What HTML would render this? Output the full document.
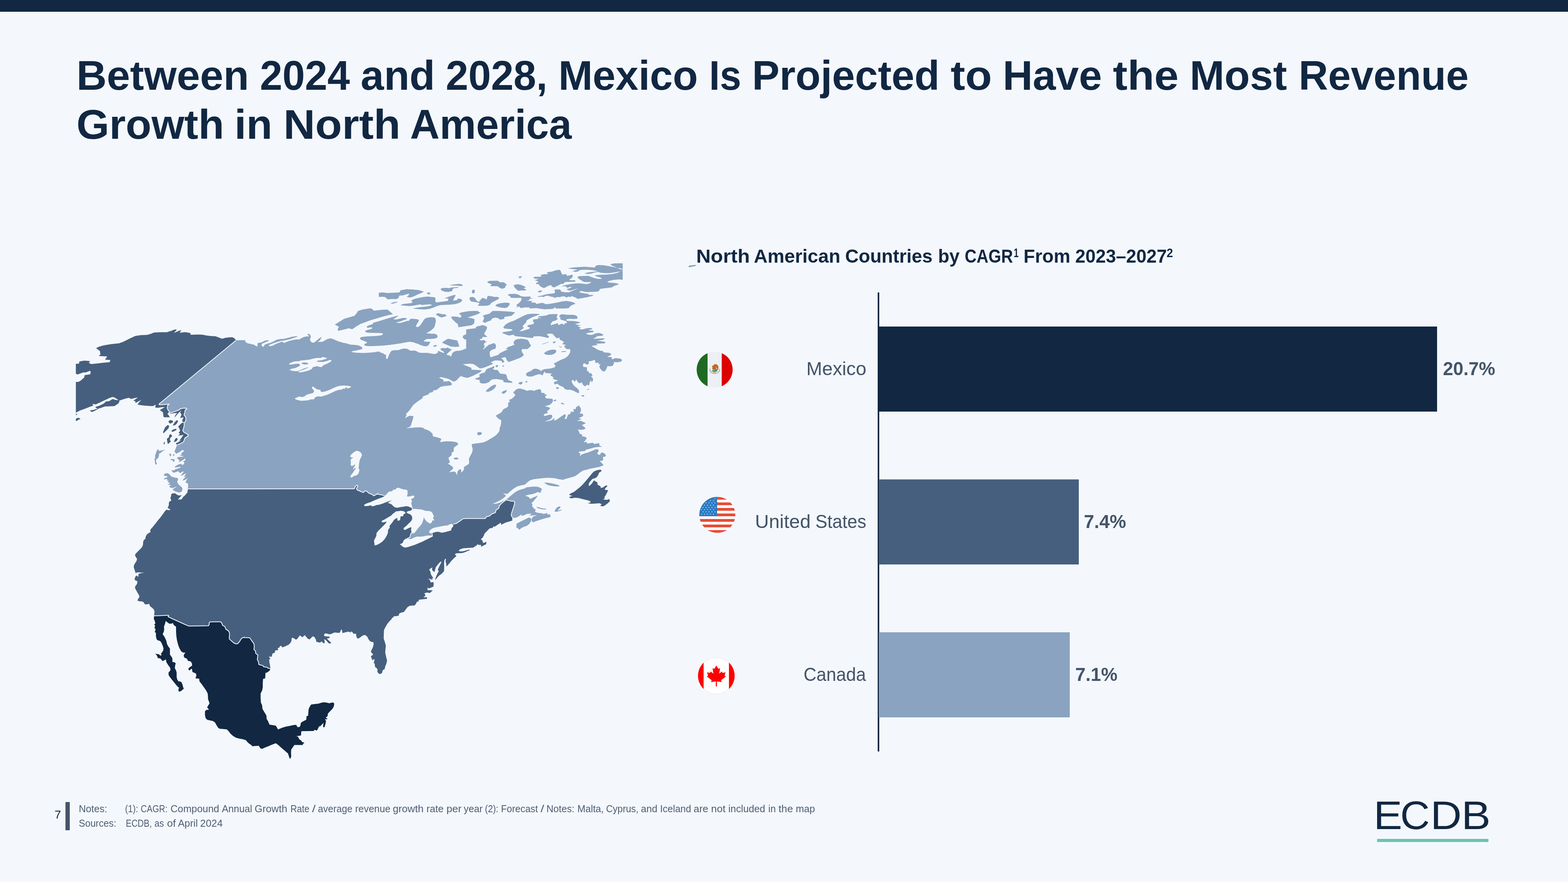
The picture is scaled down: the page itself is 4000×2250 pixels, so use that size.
<!DOCTYPE html>
<html lang="en">
<head>
<meta charset="utf-8">
<title>Between 2024 and 2028, Mexico Is Projected to Have the Most Revenue Growth in North America</title>
<style>
html,body{margin:0;padding:0;}
body{width:4000px;height:2250px;overflow:hidden;background:#f4f8fc;font-family:"Liberation Sans",sans-serif;}
.slide{position:relative;width:4000px;height:2250px;overflow:hidden;background:#f4f8fc;}
.t{position:absolute;left:0;margin:0;padding:0;width:4000px;height:0;line-height:1;white-space:pre;}
.w{position:absolute;top:0;display:block;line-height:1;white-space:pre;transform-origin:0 0;}
.topbar{position:absolute;left:0;top:0;width:4000px;height:30px;background:#112742;}
.bar{position:absolute;left:2242px;height:217px;}
.axis{position:absolute;left:2239px;top:746px;width:4px;height:1171px;background:#112742;}
.rule{position:absolute;left:167px;top:2046px;width:11px;height:72px;background:#44546a;}
.logoline{position:absolute;left:3512.6px;top:2139.5px;width:284.5px;height:8.3px;background:#6cc4b0;}
svg{position:absolute;left:0;top:0;overflow:visible;}
</style>
</head>
<body>
<div class="slide">
<div class="topbar"></div>
<header>

<h1 class="t " style="top:140.12px;font-size:105px;font-weight:700;color:#112742"><span class="w" style="left:195.27px;transform:scaleX(1.0191)">Between</span> <span class="w" style="left:663.45px;transform:scaleX(0.9826)">2024</span> <span class="w" style="left:920.35px;transform:scaleX(1.0169)">and</span> <span class="w" style="left:1137.43px;transform:scaleX(0.9881)">2028,</span> <span class="w" style="left:1424.4px;">Mexico</span> <span class="w" style="left:1808.85px;transform:scaleX(0.9351)">Is</span> <span class="w" style="left:1918.4px;">Projected</span> <span class="w" style="left:2425.34px;transform:scaleX(1.0638)">to</span> <span class="w" style="left:2558.34px;transform:scaleX(1.0083)">Have</span> <span class="w" style="left:2839.34px;transform:scaleX(1.0654)">the</span> <span class="w" style="left:3035.31px;transform:scaleX(1.0127)">Most</span> <span class="w" style="left:3313.46px;transform:scaleX(0.9907)">Revenue</span></h1>
<h1 class="t " style="top:264.82px;font-size:105px;font-weight:700;color:#112742"><span class="w" style="left:194.5px;transform:scaleX(1.0252)">Growth</span> <span class="w" style="left:598.33px;transform:scaleX(1.0375)">in</span> <span class="w" style="left:723.12px;transform:scaleX(1.0674)">North</span> <span class="w" style="left:1045.61px;transform:scaleX(0.9952)">America</span></h1>
</header>
<section class="map">
<svg class="map" width="4000" height="2250" viewBox="0 0 4000 2250" xmlns="http://www.w3.org/2000/svg">
<defs><clipPath id="mapclip"><rect x="193.5" y="671.5" width="1395.0" height="1288.5"/></clipPath></defs>
<g clip-path="url(#mapclip)">
<path fill="#8aa3c0" d="M459.4,1122.4 521.5,1122.4 521.5,1249.1 479.3,1249.1 479.9,1238 479.3,1233 473,1231.1 475.5,1225.5 479,1219.9 471.8,1224.3 465,1226.1 469.3,1220.6 474.9,1215.6 468.1,1216.8 471.8,1213.1 474.9,1206.9 465.6,1212.5 460.6,1214.3 464.3,1209.4 469.3,1202.5 465.6,1203.2 459.4,1206.9 454.4,1201.9 447,1205 442,1205.7 437,1200.1 445.7,1199.4 447,1197 458.1,1193.9 461.9,1190.7 454.4,1191.4 445.7,1192.6 447,1189.5 454.4,1185.2 461.9,1183.3 465.6,1186.4 469.3,1183.3 470.6,1179.6 466.8,1177.7 473,1173.4 472.4,1169.6 463.1,1175.8 455.7,1179.6 458.1,1175.8 455.7,1172.1 451.3,1169 454.4,1165.9 468.1,1164.7 465.6,1162.8 458.1,1162.2 463.7,1159.1 462.5,1155.3 468.1,1152.2 469.3,1149.1 465.6,1147.9 458.1,1152.9 449.4,1157.8 445.1,1151.6 447,1147.3 449.4,1141.1 451.9,1134.2ZM396,1184.5 395.4,1179.6 394.2,1170.9 396,1167.8 395.4,1162.2 397.3,1157.2 400.4,1148.5 403.5,1146.3 405,1147.3 404.7,1150.4 412.2,1149.1 422.1,1147 414.7,1151 409.1,1156 405.3,1157.8 405.7,1162.2 403.5,1168.4 398.5,1172.1 397.9,1177.1 400.4,1183.3 398.5,1185.2ZM431.4,1157 437,1158.4 436.4,1162.2 434.5,1164.7 432.7,1161.6ZM441.4,1159.7 443.2,1157.8 445.5,1161.6 441.4,1163.4ZM434.5,1171.5 439.5,1170.9 445.7,1172.1 445.1,1177.1 441.4,1178.3 440.7,1174.6 435.8,1173.4ZM417.8,1211.9 420.9,1208.1 427.7,1206.9 432.7,1210.6 437,1215.6 447,1218.7 453.2,1219.3 454.4,1223 451.9,1229.3 455,1235.5 459.4,1239.2 464.3,1243.5 465.6,1247.9 463.7,1254.1 458.1,1256.6 451.9,1255.3 445.7,1252.9 440.1,1249.1 444.5,1245.4 449.4,1242.3 451.9,1240.4 447,1242.3 442,1244.8 434.5,1244.2 432,1241.7 435.8,1236.7 427.7,1236.7 434.5,1231.7 427.1,1230.5 430.8,1227.4 425.8,1225.5 427.1,1221.8 418.4,1223 419,1219.9 425.8,1218.1 427.1,1215 422.1,1213.7 419,1214.3ZM602.5,868 625,867.7 626.6,872.7 632.8,876.6 642.1,880 649.9,881.2 656.4,884.3 657.6,875 667,873.5 676.3,868.8 680.9,867.7 687.1,868.8 679.4,871.9 673.2,875 668.5,876.6 667,880.5 669.3,884.3 672.4,884.3 674.7,879.7 682.5,876.6 688.7,875 698,871.1 705.8,866.5 715.1,864.9 724.4,864.2 735.3,861.8 743,859.5 755.5,857.6 759.8,858.3 750.8,861.8 738.4,865.7 724.4,868.8 715.1,870.1 705.8,872.7 694.9,876.6 687.1,879.7 684.8,882 688.7,883.1 694.9,882 702.7,878.1 712,874.3 719.8,871.6 724.4,875 735.3,870.4 747.7,867.3 755.5,865.7 763.2,866 767.9,862.9 775.7,859.5 783.4,858 788.1,858.7 787.3,855.6 784.2,853.3 785.7,851.4 789.6,852.5 792.7,856.4 792.7,861.1 790.4,866.5 793.5,871.9 797.4,874.3 802,873.5 806.7,869.6 812.9,864.2 817.6,861.1 821.5,859.5 817.6,864.9 816.8,868 809.8,872.2 822.2,871.9 831.6,867 842.4,863.4 850.2,865.4 859.5,869.6 867.3,872.7 882.8,875.8 893.7,878.9 906.1,880 915.4,882 921.6,885.9 923.9,889 918.5,891.8 906.1,893.7 896.8,896 896,898.3 906.1,900.2 921.6,900.7 937.1,900.7 952.7,899.1 968.2,897.1 969.8,900.7 980.6,903 980.6,1055.6 579.2,1055.6 579.2,876.6ZM854.2,827.9 877.5,813.4 882.1,811.9 903.9,805.7 910.1,798.7 913.2,793.3 925.6,789.4 944.2,786.6 948.9,787.8 953.5,792.5 975.3,790.2 988.5,789.7 995.5,795.6 1002.5,801.5 990.8,804.1 975.3,808 959.8,812.7 944.2,817.3 931.8,822 919.4,826.6 908.5,832.9 900.7,838.8 897.6,839.8 889.9,837.5 879,840.3 863.5,843.7 861.1,841.4 864.3,833.6ZM934.9,833.6 939.6,830.5 951.2,826.6 952,823.5 967.5,818.9 983,814.2 998.6,809.6 1014.1,805.2 1016,806.1 1011,809.6 1003.2,814.2 1011,815 1020.3,812.7 1029.6,810.8 1038.2,811.9 1037.4,814.2 1028.1,817.3 1020.3,820.4 1012.5,822 1011,823.5 1020.3,823.9 1028.1,822 1037.4,818.9 1043.6,818.1 1045.9,814.2 1049.8,813.1 1062.2,813.9 1068.4,815.8 1067.7,820.4 1064.6,825.1 1061.5,830.5 1061.5,833.6 1065.3,834.4 1070,832.1 1074.7,826.6 1079.3,818.9 1084,812.7 1090.2,810.3 1099.5,809.3 1107.3,809.6 1111.1,812.7 1111.9,818.9 1110.4,826.6 1108.8,832.9 1105.7,837.5 1099.5,843 1093.3,846.8 1087.1,849.9 1099.5,851.2 1110.4,851.5 1115,854.6 1116.6,859.3 1113.5,862.4 1107.3,863.9 1098,864.7 1088.6,864.7 1084,867 1080.9,870.9 1088.6,871.7 1098,872 1095.6,876.3 1093.3,880.7 1088.6,883.3 1082.4,883.3 1074.7,881 1065.3,877.1 1054.5,873.2 1045.2,871.7 1035.8,873.2 1021.9,876 1006.3,878.2 990.8,880.2 975.3,881.8 959.8,882.5 944.2,882.9 933.4,882.5 928.7,880.2 931,877.1 936.5,874.8 935.7,872.5 928.7,869.8 920.9,867 917.8,863.1 920.9,860 931.8,858.5 944.2,857.7 959.8,856.9 972.2,855.4 976.8,853 976.8,850.7 969.1,849.6 952,849.2 938,848.7 932.1,846.8 931.8,843.7 938,841.4 945.8,839.8 949.7,837.5 948.9,835.2 942.7,835.2 938,836.7ZM966.3,747.5 969.1,746.2 978.4,745.9 987.7,747.5 1003.2,746.7 1018.8,745.9 1021.9,740.5 1037.4,737.8 1052.9,738.4 1068.4,740 1081.2,744 1074.7,747.5 1065.3,751.3 1056,756 1046.7,759.1 1037.4,757.5 1042,753.7 1044.4,749 1037.4,750.6 1028.1,753.4 1018.8,754 1017.2,758.3 1014.9,761.4 1009.4,763.3 1003.2,762.7 995.5,763 988.5,763.8 986.1,760.7 981.5,757.5 973.7,757.1 966.3,757.5ZM1089.4,746.7 1094.1,745.9 1098.3,747.8 1097.2,750.2 1092.5,750.9 1089.4,749ZM997,773.5 1006.3,770.4 1014.1,769.5 1012.5,771.5 1003.2,774.6 998.6,775.1ZM1021.9,779.3 1026.5,775.7 1037.4,774.6 1049.8,773.1 1052.9,770.7 1048.3,767.6 1056,762.7 1068.4,759.9 1080.9,757.5 1091.7,756.5 1099.5,757.5 1108.8,758.3 1111.1,761.4 1110.4,767.6 1111.9,771.5 1119.7,770.7 1130.6,769.2 1143,767.6 1143.8,761.7 1133.7,760.7 1143,757.5 1153.9,753.7 1162.4,752.1 1160.1,758.3 1156.2,764.5 1155.4,766.4 1165.5,766.1 1167,762.2 1172.5,761.7 1177.1,763.3 1179,766.9 1175.6,770.7 1167.8,773.9 1158.5,776.2 1146.1,777.3 1133.7,777.7 1124.3,778.2 1115,780.8 1105.7,784.7 1096.4,787.8 1084,789.4 1071.6,789.1 1060.7,788.1 1052.9,787 1062.2,785 1074.7,783.2 1087.1,781.9 1098,780.1 1102.6,777.7 1096.4,776.6 1084,777.3 1074.7,778.5 1074.7,776.2 1065.3,777.7 1052.9,780.1 1043.6,780.8 1034.3,780.1 1028.1,779.3ZM1124.3,736.6 1129,734.7 1138.3,734.3 1146.1,735.3 1150.7,733.5 1161.6,732.7 1169.4,732.2 1168.6,734.3 1158.5,735.3 1155.4,736.6 1153.9,741.2 1150.7,743.6 1143,744.7 1135.2,744.3 1128.2,742 1125.1,739.4ZM1146.9,727.3 1158.5,725.4 1170.9,724.2 1177.1,724.9 1180.6,727.3 1179.5,729.6 1174,729.6 1164.7,728.5 1155.4,728.4ZM1203.9,742.8 1205.1,740 1208.2,738.9 1211,741.2 1211,745.1 1209,748.2 1205.9,748.7 1203.9,745.9ZM1111.9,801 1118.1,799 1124.3,800.6 1129,801.8 1135.2,801.5 1139.6,805.7 1133.7,808 1125.9,809.9 1119.7,807.2 1114.3,804.1ZM820,874 829.3,868.6 835.5,864.7 843.3,863.1 851.1,865.5 863.5,870.9 874.3,874 889.9,878.7 903.9,879.8 913.2,880.7 919.4,883.3 924.8,887.2 924,890.3 916.3,892.6 903.9,895 896.1,896.5 900.7,898.9 913.2,899.9 928.7,900.4 944.2,899.6 959.8,898.1 968.3,896.5 967.5,898.9 975.3,900.4 983,905.1 984.3,908.9 976.8,909.7 973,910.5 975.3,915.5 820,915.5ZM1127.5,874 1135.2,868.6 1143,863.9 1153.9,866.2 1166.3,868.6 1169.4,876.3 1171.7,884.1 1161.6,884.9 1150.7,884.1 1143,881 1133.7,877.1ZM1105.4,882.5 1108.8,880.7 1113.5,880.2 1114.7,882.2 1111.1,884.1 1106.5,884.9ZM1556.5,674.6 1565.8,672 1578.2,671.2 1590.6,671.5 1590.6,686.7 1575.1,682.9 1562.7,678.2ZM1448.5,684.4 1461.7,682.4 1477.3,681.3 1492.8,680.5 1508.3,681.8 1517.6,682.4 1519.2,678.2 1525.4,676.2 1539.4,676.6 1553.4,679 1565.8,681.3 1575.1,682.9 1581.3,686.7 1590.6,687.5 1590.6,690.6 1578.2,693 1565.8,695.3 1554.9,696.8 1544,696.8 1531.6,695.7 1526.2,693.7 1516.1,695.3 1508.3,697.9 1499,698.9 1490.5,697.6 1499,695.3 1509.9,693.7 1520.7,692.6 1525.4,692.2 1516.1,689.8 1500.6,688.3 1485,688.3 1477.3,689.5 1475.7,692.2 1468,693.7 1460.2,691.7 1466.4,689.8 1474.2,688.6 1466.4,686.7 1457.1,686ZM1517.6,702.3 1531.6,701 1547.1,700.4 1562.7,698.9 1575.1,696.1 1582.9,692.2 1590.6,691.4 1590.6,713.9 1578.2,712.8 1565.8,713.9 1554.9,716.2 1548.7,719.3 1554.9,720.9 1567.3,721.7 1578.2,724 1576.6,726.3 1565.8,729.4 1562.7,732.5 1554.9,734.1 1539.4,735.7 1530.1,737.2 1528.5,741.9 1523.9,743.9 1513,744.5 1500.6,745 1491.2,744.2 1481.9,741.9 1477.3,739.2 1474.2,735.7 1466.4,738 1457.1,741.1 1450.9,741.1 1444.7,738 1454,734.9 1459.4,731.8 1454,732.1 1446.2,734.6 1444.7,731 1438.4,730.2 1432.2,732.1 1438.4,727.9 1454,724.8 1466.4,723.2 1477.3,722.8 1488.1,724 1497.5,724.8 1505.2,722.5 1508.3,719.3 1499,719.7 1489.7,719.3 1481.9,714.7 1475.7,710.8 1472.6,706.9 1477.3,704.6 1488.1,704.1 1500.6,703.8 1508.3,706.6 1516.1,709.3 1523.9,711.3 1531.6,711.6 1536.3,710.3 1528.5,706.9 1520.7,705.1ZM1360,707.7 1365.5,706.1 1376.3,706.1 1382.5,704.6 1378.7,701.5 1384.1,699.9 1398.1,698.9 1395,694.5 1407.4,693 1418.3,689.5 1427.6,688.3 1429.9,690.6 1432.2,696.1 1434.6,700.4 1444.7,699.2 1446.2,703.8 1454,702.3 1460.2,700.4 1461.4,704.6 1458.6,709.3 1452.4,713.1 1454,715 1467.2,715 1467.6,718.6 1454,719 1441.6,719.3 1438.4,722.8 1434.6,725.2 1432.2,723.7 1422.9,728.7 1413.6,733.3 1408.9,731.8 1405.1,727.1 1396.5,730.2 1390.3,734.1 1385.7,734.6 1379.4,731 1374.8,727.1 1376.3,725.2 1368.6,724.8 1367,721.7 1373.2,720.1 1370.9,717 1363.9,714.7 1370.1,713.1 1374.8,711.6 1363.9,710.8ZM1322,705.4 1332.1,704.6 1326.6,710.8ZM1243.6,718.6 1249,716.6 1259.9,716.2 1270.7,716.2 1274.6,720.1 1284.7,720.1 1289.4,723.2 1293.7,727.1 1289.4,728.7 1289.4,732.5 1286.3,734.9 1280.1,736.7 1274.6,734.1 1269.2,730.2 1258.3,729.9 1250.6,729.9 1253.7,724.8 1247.5,722.8 1243.6,720.9ZM1310.3,727.9 1314.2,725.9 1322,725.2 1329.8,727.1 1337.5,730.2 1341.4,732.5 1336,735.7 1343.7,739.5 1339.1,741.1 1329.8,741.1 1322,741.9 1317.3,738 1312.7,733.3ZM1204,742.6 1205.5,739.5 1208.6,738.8 1211.4,741.1 1211,745.7 1208.6,748.5 1205.2,748.1ZM1371.4,744.2 1374.8,741.9 1380.2,740.8 1382.9,742.6 1380.2,745 1375.6,746.1ZM1197.5,759.7 1200.1,757.9 1205.5,757.4 1210.2,758.9 1213.3,762.8 1216.4,767.5 1221.1,770.6 1224.9,765.9 1228.8,761.3 1231.1,760 1236.6,761.3 1241.2,764.4 1242.8,758.2 1244.3,754.8 1252.1,755.4 1261.4,757.4 1269.2,757.4 1273.5,759.4 1271.5,762.8 1264.5,766.7 1256.8,770.6 1252.1,773.7 1249.8,777.6 1244.3,779.6 1233.5,780.2 1218.7,779.9 1223.4,773.7 1219.5,772.1 1211.7,770.6 1202.4,769.3 1199,765.9ZM1263.3,779.9 1267.6,776 1277,773.4 1287.8,772.1 1297.1,772.5 1301,774.5 1298.7,779.1 1294.8,783.8 1289.4,785.8 1280.1,784.9 1270.7,783ZM1294.8,752 1300.2,750.1 1314.2,749.6 1322,751.6 1329.8,755.8 1339.1,756.9 1345.3,756.6 1353.8,756.3 1352.3,759.4 1360.8,761.3 1351.5,762 1349.9,765.6 1343,767.5 1353,767.5 1358.5,768.7 1354.6,772.1 1365.5,772.1 1368.6,775.6 1376.3,773.7 1384.1,772.5 1388.8,774.5 1391.9,776 1399.6,775.6 1410.5,773.7 1422.9,771.4 1435.3,768.7 1444.7,767.8 1454,769 1463.3,771.4 1468,775.2 1461.7,777.1 1454,781.5 1450.9,786.1 1438.4,786.9 1426,786.9 1417.5,786.9 1416.7,783.8 1410.5,787.7 1399.6,788.4 1388.8,788.9 1379.4,787.7 1368.6,786.1 1357.7,786.4 1351.5,786.9 1350.7,784.3 1339.1,784.3 1329.8,785.8 1325.9,784.6 1325.1,781.5 1315.8,784.9 1320.4,780.7 1316.6,778.4 1322,774.5 1326.6,770.6 1329.8,765.9 1330.5,760 1323.5,759.7 1314.2,760 1303.4,759.7 1301,755.8ZM1370.1,756.6 1384.1,753.5 1396.5,750.1 1407.4,748.9 1415.2,748.1 1415.9,742.6 1413.6,739.5 1419.8,738.3 1429.1,738.8 1432.2,744.2 1441.6,745.4 1450.9,745.7 1460.2,741.9 1468,738.8 1474.9,735.7 1477.3,739.2 1481.9,741.9 1477.3,745.7 1485,747.3 1494.3,748.9 1501.3,749.6 1500.6,752 1515.3,752.7 1508.3,755.8 1497.5,758.2 1485,760.5 1474.2,762.5 1466.4,758.2 1457.1,755.1 1456.3,758.2 1450.9,756.6 1444.7,758.9 1440,755.8 1432.2,756.6 1427.6,758.2 1422.9,757.4 1415.2,759.7 1410.5,757.4 1404.3,756.6 1398.1,754.3 1391.9,755.1 1385.7,758.2 1383.3,756.6 1376.3,757.4ZM1189.2,794.7 1199.3,793.6 1210.2,793.3 1221.1,795.4 1226,797.3 1221.1,800.1 1210.2,803.2 1199.3,807.1 1189.2,810.2ZM1231.1,805.5 1236.6,803.5 1249,800.1 1253.7,795.4 1256.8,793.3 1270.7,793.3 1286.3,793.9 1301.8,795.1 1314.2,796.7 1309.6,801.6 1304.9,805.5 1297.1,807.1 1287,808.2 1286.3,813.3 1280.1,814.8 1275.4,815.3 1270.7,811.7 1264.5,810.2 1258.3,811.3 1253.7,814.1 1252.9,817.2 1244.3,820.3 1236.6,823.7 1231.1,820.3 1234.3,814.1 1235,809.4ZM1189.2,811 1199.3,812.5 1210.2,814.8 1209.4,824.9 1204,829.6 1196.2,831.1 1189.2,831.5ZM1283.9,835 1289.4,828 1298.7,822.6 1311.1,818 1322,812.5 1332.9,807.1 1345.3,801.6 1357.7,800.4 1368.6,800.4 1377.9,801.3 1371.7,804 1360.8,807.9 1351.5,812.5 1343.7,817.2 1341.4,823.4 1336.7,828 1332.9,832.7 1336.7,836.6 1331.3,840.5 1325.1,845.1 1332.9,844.3 1342.2,841.2 1349.9,838.9 1351.5,835 1345.3,833.5 1346.8,829.6 1354.6,828 1360.8,826.5 1362.4,823.4 1359.3,818.7 1360.8,814.8 1371.7,814.1 1373.2,810.2 1381,812.5 1371.7,807.1 1384.1,806 1395,804.4 1399.6,802 1410.5,801.3 1422.9,801.6 1421.4,805.5 1419.8,809.4 1422.9,814.1 1416.7,818 1408.9,820 1405.1,826.5 1404.3,829.6 1413.6,827.3 1422.9,824.2 1424.5,829.6 1430.7,826.5 1435.3,825.7 1439.2,829.6 1440,824.9 1446.2,824.2 1444.7,819.5 1436.9,817.2 1429.1,814.8 1429.9,810.2 1426.8,807.9 1427.6,804 1433.8,801.6 1446.2,802.9 1461.7,802.9 1469.5,804.8 1473.4,808.6 1472.6,813.3 1461.7,813.8 1454,813.3 1444.7,814.4 1446.2,818.4 1461.7,818.7 1472.6,820.3 1480.4,822.1 1477.3,824.2 1466.4,826.5 1474.2,828.8 1483.2,829.6 1472.6,831.9 1481.9,835.8 1477.3,838.9 1485,840.5 1494.3,838.1 1503.7,836.6 1509.9,837.4 1511.4,839.7 1500.6,842 1508.3,843.6 1513.8,843.6 1513,847.5 1505.2,848.2 1494.3,850.6 1500.6,853.7 1509.9,854.4 1517.6,851.3 1523.9,849.5 1531.6,850.1 1539.4,853.7 1536.3,856.8 1523.9,857.5 1519.2,861 1513,864.5 1523.9,863.8 1536.3,863 1544,864.1 1537.8,866.9 1523.9,868.7 1516.1,870 1531.6,871.5 1544,873.1 1542.5,875.9 1531.6,876.2 1520.7,877 1523.9,880.1 1516.1,880.8 1508.3,882.4 1516.1,887 1520.7,890.5 1444.7,890.5 1438.4,882.4 1444.7,880.1 1435.3,877.7 1440,873.1 1432.2,868.4 1427.6,866.1 1427.6,861.4 1419.8,863 1413.6,856 1408.9,851.3 1398.1,851.3 1395,853.7 1401.2,859.1 1398.1,862.2 1388.8,859.9 1376.3,857.5 1360.8,858.3 1359.3,862.5 1345.3,861 1329.8,859.1 1314.2,857.5 1309.6,853.7 1298.7,856 1289.4,852.9 1280.1,849 1286.3,846.7 1298.7,845.1 1308,842.8 1304.9,839.7 1295.6,838.9 1286.3,838.1ZM1189.2,840.5 1199.3,838.9 1213.3,837.4 1214.8,833.5 1224.2,831.1 1231.1,829.3 1239.7,831.9 1242.8,835 1241.2,840.5 1238.1,845.9 1235,851.3 1238.1,855.2 1243.6,859.1 1236.6,859.9 1231.9,859.1 1229.6,863.8 1222.6,866.1 1227.3,868.4 1236.6,867.6 1238.1,871.5 1243.6,871.8 1236.6,874.6 1233.5,879.3 1236.6,882.4 1235,887 1231.9,890.5 1189.2,890.5ZM1235,890.5 1241.2,883.9 1249,879.3 1256.8,876.2 1261.4,875.4 1264.5,879.3 1265.3,885.5 1263,890.5ZM1289.4,890.5 1297.1,884.7 1304.9,882.4 1312.7,879.3 1309.6,874.6 1312.7,868.4 1318.9,865.3 1329.8,864.1 1339.1,865.3 1346.8,867.6 1349.9,873.1 1353,880.8 1351.5,885.5 1345.3,890.5ZM1410.5,872.3 1415.2,870.7 1418,871.8 1415.2,874.6 1411.3,875.9ZM1382.5,877.7 1391.9,874.6 1400.4,871.8 1399.6,873.1 1390.3,876.2 1384.1,878.5ZM1424.5,883.2 1429.1,883.9 1433.8,885.5 1429.9,886.3ZM1150.7,808 1157,807.2 1166.3,808 1174,810.3 1177.1,808 1175.6,803.4 1170.2,799.9 1177.1,797.1 1189.6,794.8 1205.1,793.3 1220,793.3 1220,801 1208.2,804.9 1192.7,809.9 1202,811.4 1210.5,814.2 1209.8,823.5 1205.1,828.2 1192.7,831.3 1180.2,833.2 1169.4,834.7 1167.8,826.6 1161.6,822 1155.4,815.8 1152.3,811.9ZM1220,882.5 1197.3,882.5 1198.9,877.1 1206.6,874 1208.2,870.9 1203.5,870.1 1198.9,873.2 1196.6,870.9 1195.8,865.5 1192.7,867 1184.9,865.5 1180.2,860.8 1181.8,856.1 1189.6,852.3 1197.3,849.9 1192.7,848.4 1191.1,844.5 1198.9,839.1 1214.4,838.3 1215.2,833.6 1220,832.1ZM959.2,897.1 967.8,897.9 975.5,901 981.7,904.8 984.1,908.7 975.5,909.2 972.7,909.8 975.5,915.7 978.6,922.7 981,916.5 988.7,914.9 991.1,908 994.9,900.2 998.8,894.8 1006.6,893.2 1015.9,893.2 1025.2,890.1 1033,889 1039.2,890.1 1044.6,893.2 1048.5,894.8 1057.8,894.3 1063.3,896.3 1068.7,899.4 1078,900.2 1088.9,899.9 1099.8,901.7 1107.5,903.3 1113.7,901.7 1116.8,899.4 1117.6,894.8 1123,897.1 1130.8,900.2 1133.9,899.4 1129.3,895.5 1124.6,893.2 1123.8,889.3 1129.3,887.8 1137,888.5 1141.7,886.5 1146.3,889.3 1152.5,891.6 1149.4,894.8 1144.8,898.6 1140.1,903.3 1138.6,904.8 1147.9,907.6 1150.2,910.3 1152.5,904.8 1154.1,900.2 1160.3,896.3 1166.5,894.8 1172.7,894.8 1180.5,892.4 1188.3,889.3 1194.5,884.7 1197.6,879.2 1236.4,879.2 1229.4,887 1232.5,891.6 1239.5,886.2 1247.3,879.2 1265.1,879.2 1264.7,886.2 1261.2,890.1 1253.5,893.2 1249.6,897.1 1249.1,903.3 1251.1,911.8 1259.7,908.7 1270.6,905.6 1275.2,901 1286.1,895.5 1298.5,890.1 1309.4,884.7 1317.1,879.2 1354.4,879.2 1354.4,883.1 1340.4,887 1332.7,889.3 1330.3,894 1332.7,900.2 1336.6,904.8 1332.7,909.5 1324.9,913.4 1317.1,916.5 1306.3,920.4 1297,923.5 1293.1,918.8 1289.2,911.1 1278.3,913.4 1283,917.3 1286.9,923.5 1281.4,925.8 1279.9,921.1 1270.6,919.6 1262.8,919.6 1255,922.7 1251.9,925 1258.1,927.4 1255,929.7 1247.3,932.8 1238,936.7 1230.2,939.3 1224,939.8 1216.2,934.3 1208.4,928.9 1199.1,927.8 1188.3,928.4 1180.5,929.4 1188.3,932.8 1197.6,936.2 1202.2,938.2 1203,942.9 1214.7,943.7 1224,944 1229.4,945.2 1224,949.9 1214.7,954.5 1205.3,959.2 1197.6,962.3 1191.4,963.9 1183.6,962.3 1175.8,959.2 1171.2,963.1 1166.5,968.5 1160.3,972.9 1154.1,972.4 1149.4,969.3 1143.2,966.2 1133.9,963.9 1124.6,962 1119.9,963.5 1126.1,966.6 1131.6,969.3 1130.8,973.2 1138.6,972.9 1145.6,971.9 1150.2,975.5 1153.3,980.2 1151,982.8 1143.2,984 1133.9,984.8 1124.6,986.4 1118.4,991 1113,994.9 1105.2,996.1 1104.4,999.9 1094.3,1002.7 1093.9,1006.1 1084.2,1009.2 1078,1012 1078.8,1015.1 1068.7,1022.1 1060.9,1027.5 1053.9,1033.7 1049.3,1039.9 1045.4,1046.1 1039.2,1052.4 1036.1,1055.5 1036.9,1060.1 1033,1067.1 1040.7,1062.5 1045.4,1060.4 1054.7,1061.4 1053.2,1069.4 1050.1,1078.8 1048.5,1085 1045.4,1088.9 1036.1,1092.7 1047,1091.5 1059.4,1090.4 1071.8,1089.9 1079.6,1091.5 1082.7,1094.3 1092,1097.4 1098.2,1101.3 1102.1,1105.5 959.2,1105.5ZM1210.8,966.2 1217.8,963.9 1224,960.7 1222.4,956.1 1227.1,953 1236.4,949.9 1241.1,942.1 1247.3,939 1255,936.7 1259.7,933.6 1261.2,938.2 1256.6,941.3 1262.8,943.7 1269,943.4 1273.7,949.9 1275.2,953 1283,953.8 1289.2,954.2 1292.3,957.6 1293.9,964.6 1297,970.1 1306.3,973.2 1307,976.6 1293.9,976 1284.5,974.7 1283.8,970.1 1276.8,968.5 1267.5,967 1258.1,967.3 1251.9,970.1 1247.3,974.7 1239.5,977.8 1231.7,978.6 1225.5,977 1223.2,973.2 1224,969.3 1216.2,968.5ZM1238.7,998.8 1242.6,994.1 1248.8,988.7 1255,984 1262.8,980.9 1265.9,982.5 1264.3,987.1 1259.7,992.6 1253.5,996.5 1245.7,999.6ZM1279.1,1001.1 1283,998.3 1290.7,995.2 1293.5,995.7 1290.7,1000.3 1286.1,1004.2 1283,1004.5ZM1264,933.6 1266.7,931.2 1270.2,931.6 1270.6,934.3 1268.2,936.7 1265.1,936.2ZM1281.4,932.8 1284.5,932 1286.1,933.6 1284.5,935.6 1282.2,935.1ZM1322.6,977 1326.5,974.7 1331.1,973.9 1333.4,976.3 1331.1,979.4 1326.5,980.9ZM1340.1,972.4 1342.8,971.9 1345.1,973.9 1343.5,976.3 1340.7,975ZM1342,954.5 1345.1,950.7 1352.9,947.5 1360.6,946 1360.6,960 1351.3,960.7 1345.1,959.2ZM1360.6,1105.5 1269,1105.5 1270.6,1100.5 1273.7,1094.3 1276.8,1086.5 1278.3,1080.3 1279.1,1074.1 1276.8,1070.2 1270.6,1066.3 1264.3,1060.9 1272.1,1056.2 1278.3,1052.4 1281.4,1048.5 1284.5,1043.8 1292.3,1039.9 1296.2,1036.8 1297.7,1029.1 1302.4,1023.6 1297.7,1021 1301.6,1019.8 1310.9,1013.5 1314.8,1008.1 1311.7,1004.2 1309.4,1001.1 1315.6,995.7 1321.8,991.8 1329.6,991.8 1337.3,994.1 1345.1,997.2 1351.3,995.7 1360.6,995.7ZM1217,1105.5 1219.3,1103.3 1224,1102.4 1228.6,1103.6 1230.2,1105.5ZM1527.3,869.2 1535,870.8 1544.3,872.3 1543.6,874.7 1535,875.4 1527.3,874.7 1519.5,877 1524.2,880.9 1518,880.9 1508.6,882.4 1516.4,887.1 1524.2,891.7 1531.9,894.8 1538.1,895.6 1539.7,898.7 1547.5,899.5 1555.2,900.3 1559.9,903.4 1556.8,906.5 1549,910.4 1560.7,911.1 1560.7,916.6 1564.5,915.8 1569.2,913.5 1578.5,914.3 1584.7,915.8 1587,919.7 1583.2,922.8 1573.9,924.3 1566.1,923.6 1566.1,927.5 1563,932.9 1556.8,934.4 1549.8,933.7 1546.7,941.4 1542.8,947.3 1538.1,947.6 1531.9,941.4 1528.8,935.2 1531.9,929 1527.3,929.8 1527.3,925.1 1519.5,925.9 1517.2,918.1 1510.2,920.5 1501.6,922 1502.4,927.5 1497.8,930.6 1491.6,927.1 1488.4,927.5 1486.9,931.3 1488.4,936 1497,936.8 1497.8,946.9 1501.6,947.6 1502.4,951.5 1508.6,952.3 1511.7,959.3 1507.1,960.1 1510.2,962.4 1513.3,967 1511.7,972.5 1509.4,975.6 1507.1,969.4 1504,977.1 1502.4,984.1 1497.8,981 1493.1,985.7 1486.9,981.8 1484.6,975.6 1477.6,977.9 1472.9,973.3 1469.8,967.8 1466.7,974 1462,969.4 1458.9,970.2 1458.2,973.3 1460.5,978.7 1465.2,984.9 1471.4,989.6 1476,994.2 1477.6,999.7 1476,1003.2 1471.4,1001.2 1463.6,997.3 1455.8,994.2 1446.5,994.2 1440.3,991.9 1437.2,987.2 1432.5,985.7 1426.3,982.6 1421.7,978.7 1415.5,981 1412.4,975.6 1417,973.3 1424,970.2 1415.5,968.6 1410,965.5 1412.4,962.4 1406.1,959.3 1403.8,956.2 1408.5,953.1 1399.9,952.3 1390.6,951.5 1391.4,946.9 1386.7,951.5 1384.4,957.7 1379.8,955.4 1375.1,954.6 1368.9,956.2 1359.6,959.3 1350.2,960.8 1344,959.3 1341.7,955.4 1343.3,951.5 1348.7,948.4 1355.7,946.1 1358,943 1362.7,940.7 1368.9,940.7 1375.9,943 1380.5,946.9 1382.9,943.8 1389.1,941.7 1395.3,941.1 1404.6,939.9 1415.5,936.8 1417,932.1 1412.4,927.5 1421.7,922.8 1431,918.1 1441.9,913.5 1449.6,907.3 1454.3,899.5 1455.1,893.3 1452.7,888.6 1445,884.8 1443.4,879.6 1434.1,878.1 1437.2,874.7 1440.3,869.2ZM1387.5,901.1 1395.3,895.6 1404.6,892.5 1413.9,891.7 1419.3,894.1 1418.6,898.7 1413.9,902.6 1407.7,904.9 1398.4,905.4 1391.4,904.2ZM1410.8,872.3 1414.7,871.2 1417.3,872.3 1415.5,875 1411.6,875.4ZM1383.6,877.5 1399.9,871.9 1399.9,872.8 1384.4,878.1ZM1425.6,883.2 1432.5,884.8 1433.3,886.3 1428.7,885.8ZM1431.8,896.4 1443.4,895.2 1443.7,897.6 1432.5,898.3ZM1275.7,1095.5 1278,1084.3 1278.8,1071.9 1271.1,1068 1264.8,1060.2 1274.2,1054.8 1281.1,1051.7 1282.7,1045.5 1288.1,1042.4 1294.3,1040 1296.7,1034.6 1295.9,1028.4 1302.1,1023 1297.5,1020.6 1305.2,1017.5 1311.4,1012.1 1315.3,1007.4 1309.1,1001.2 1314.5,995.8 1319.2,991.9 1327,991.1 1336.3,994.2 1344,997.3 1351.8,995 1359.6,998.1 1367.3,995 1375.1,992.7 1379.8,994.2 1381.3,1002 1389.1,1002.8 1389.8,1006.6 1393.7,1006.3 1395.3,1008.2 1390.6,1010.5 1392.2,1016 1401.5,1016.7 1409.3,1017.5 1410.8,1022.2 1409.3,1026.1 1404.6,1031.5 1396.8,1034.6 1389.8,1036.1 1398.4,1038.5 1403.8,1040.8 1399.9,1045.5 1395.3,1049.3 1397.6,1054 1389.1,1055.6 1386.7,1060.2 1392.2,1061 1399.9,1058.2 1406.9,1057.9 1409.3,1061 1407.7,1066 1403,1070.3 1396.8,1072.6 1389.1,1075.7 1398.4,1074.2 1407.7,1071.9 1412.4,1068 1414.7,1065.7 1413.9,1073.4 1421.7,1069.5 1429.4,1064.1 1437.2,1058.7 1441.9,1056.3 1443.4,1061 1440.3,1068.8 1445,1068.8 1448.9,1057.9 1454.3,1056.3 1456.6,1050.1 1463.6,1050.9 1462.8,1043.1 1468.3,1043.9 1469.8,1038.5 1476.8,1034.6 1479.9,1038.5 1482.2,1043.9 1481.5,1050.1 1478.4,1054.8 1486.9,1055.6 1487.7,1061 1482.2,1064.1 1476,1067.2 1483.8,1068.8 1479.1,1071.1 1471.4,1073.4 1482.2,1073.7 1488.4,1076.5 1494.7,1078.9 1488.4,1082.7 1482.2,1085.1 1488.4,1088.9 1493.9,1092.8 1490,1095.5ZM1411.6,1023 1414.7,1019.8 1418.6,1019.4 1419.3,1021.4 1415.5,1023.7ZM1430.2,1028.1 1434.1,1027.6 1438.8,1029.6 1438,1032.3 1433.3,1030.7ZM1418.6,988.8 1421.7,987.2 1425.6,988.8 1425.6,991.1 1421.7,992.4 1418.6,991.1ZM1322.3,977.1 1327,974.8 1332.4,974.3 1332.9,977.1 1328.5,981 1324.6,979.9ZM1340.2,972.5 1343.3,971.7 1345.6,974.3 1342.5,976.4ZM1483,1008.2 1488.4,1007.9 1491.2,1009.4 1488.4,1012.1 1484.6,1011ZM1497,993.4 1500.9,991.9 1504,992.4 1502.4,993.9 1497.8,994.5ZM640,905 985,905 985,1105 1105,1105 1105,1095 1270,1095 1270,1105 1360,1105 1360,1215 1340,1225 1340,1290 1300,1330 1260,1330 1180,1350 1100,1330 960,1270 479,1260 479,1247 521,1247 521,1120ZM650,880 650,1000 521,1140 452,1135.2 459.5,1132 468.2,1127.1 470.1,1122.1 471.9,1117.1 478.1,1113.4 480.6,1109.7 476.3,1106.6 469.4,1102.9 466.3,1098.5 468.2,1092.3 470.1,1084.8 469.4,1078.6 472.5,1076.1 474.4,1070.6 473.8,1064.3 469.4,1058.1 471.3,1052.5 472.5,1045.7 476.9,1043.5 474.4,1041.1 465.7,1041.4 459.5,1043.2 455.8,1046.3 447.1,1049.4 437.1,1052.9 428.2,1056.3 432.8,1051.3 428.4,1045.7 426.6,1040.7 427.8,1033.9 431.6,1030.8 418.5,1032 407.3,1032.7 404.6,1030.8 600.7,868ZM1348.7,1084.2 1483.8,1084.2 1493.1,1091.2 1486.9,1095.9 1479.1,1096.6 1473.7,1095.1 1476.8,1100.5 1479.1,1106.7 1484.6,1108.3 1485.3,1113 1493.1,1114.5 1497,1117.6 1493.1,1123.8 1488.4,1128.5 1496.2,1126.9 1497.8,1131.6 1504,1130.8 1512.5,1129.3 1514.8,1132.4 1521.1,1131.6 1528.8,1130.8 1529.1,1136.2 1535.8,1140.1 1527.3,1140.1 1518,1140.9 1510.2,1143.2 1502.4,1145.6 1494.7,1147.1 1493.1,1150.2 1486.9,1151 1475.2,1152.5 1480.7,1158 1478.4,1164.2 1483.8,1159.5 1491.6,1156.4 1500.9,1154.1 1510.2,1150.2 1519.5,1146.3 1526.5,1146.8 1527,1151.8 1523.4,1155.7 1525.7,1159.5 1530.4,1160.3 1532.7,1155.7 1536.6,1154.1 1542.8,1157.2 1545.9,1161.9 1543.6,1165 1538.1,1165.7 1538.9,1173.5 1535,1175.8 1529.6,1175.8 1535,1181.3 1539.7,1185.9 1535,1189 1527.3,1191.4 1519.5,1192.9 1511.7,1194.5 1504,1196 1496.2,1198.4 1488.4,1199.9 1480.7,1204.6 1472.9,1210.8 1465.2,1215.4 1454.3,1218.5 1443.4,1221.6 1435.7,1224 1426.3,1222.4 1415.5,1220.1 1404.6,1218.9 1393.7,1218.9 1382.9,1220.1 1372,1221.3 1361.1,1222.4 1351.8,1225.5 1345.6,1230.2 1340.9,1234.8 1333.2,1238 1325.4,1240.3 1317.6,1244.9 1311.4,1249.6 1303.7,1255 1297.5,1260.5 1291.2,1258.9 1283.5,1258.1 1286.6,1261.2 1292.8,1263.6 1286.6,1269.8 1280.4,1275.2 1272.6,1279.1 1264.8,1282.2 1257.1,1285.3 1263.3,1286.6 1271.1,1283.4 1283.5,1277.2 1289.7,1272.1 1294.3,1265.9 1302.1,1259.7 1309.9,1254.6 1317.6,1250.8 1327,1246.8 1336.3,1244.5 1348.7,1242.5 1361.1,1241.2 1370.4,1241.5 1378.2,1244.2 1382.9,1248 1382.1,1249.6 1379.8,1251.9 1380.5,1255.8 1376.6,1257 1372,1255 1365.8,1258.1 1358,1260.5 1348.7,1262 1339.4,1264.8 1347.1,1267 1351,1270.6 1353.4,1272.9 1358,1269.8 1362.7,1268.2 1370.4,1264.8 1372,1264.3 1368.9,1269 1364.2,1274.4 1359.6,1279.9 1355.7,1283.8 1358.8,1286.9 1355.7,1292.3 1358,1297.7 1362.7,1301.6 1365.8,1305.5 1368.1,1310.5 1239.2,1310.5 1239.2,1147.1 1348.7,1147.1ZM1387.5,1231 1395.3,1231.3 1404.6,1232.5 1413.9,1234.4 1421.7,1236.4 1427.1,1238.7 1427.9,1240.3 1421.7,1241.1 1412.4,1240.3 1403,1238.7 1395.3,1236.4 1391.4,1233.3ZM1368.9,1292.3 1375.1,1294.6 1384.4,1297 1393.7,1297.4 1393,1299.6 1382.9,1299.3 1373.5,1297 1369.7,1294.6ZM1414.7,1304.7 1417,1299.3 1420.9,1294.6 1426.3,1291.8 1430.2,1293.1 1428.7,1296.2 1424,1300.1 1422.5,1302.4 1429.4,1300.8 1434.1,1300.5 1431,1302.4 1423.2,1304.7 1417,1305.5ZM1309.9,1290 1356.5,1290 1362.7,1297.8 1367.3,1300.1 1364.2,1304 1367.3,1307.1 1373.5,1308.6 1382.9,1309.4 1386,1311 1393.7,1309.4 1396.1,1308.6 1396.1,1312.5 1403,1311.7 1404.6,1318.7 1395.3,1321.1 1386,1323.4 1376.6,1326.5 1367.3,1329.6 1359.6,1332.7 1356.5,1328.8 1355.7,1324.9 1358,1321.1 1359.6,1318 1364.2,1316.4 1370.4,1314.1 1361.1,1314.8 1350.2,1315.6 1354.9,1311.7 1359.6,1308.3 1356.5,1306.8 1348.7,1309.4 1339.4,1313.3 1331.6,1316.4 1330.1,1312.5 1327,1314.8 1320.7,1318.7 1314.5,1321.1 1307.5,1321.1 1302.9,1318.7 1305.2,1313.3 1303.7,1310.2 1302.9,1308.6ZM1317.6,1336.6 1320.7,1334.3 1327,1331.1 1333.2,1328 1340.9,1324.2 1347.1,1321.1 1350.2,1320.3 1354.9,1322.6 1355.2,1327.3 1354.1,1330.4 1351.8,1334.3 1348.7,1338.1 1344,1341.2 1337.8,1343.6 1331.6,1345.9 1327.7,1349 1324.6,1351.3 1322.3,1349.8 1321.5,1346.7 1318.4,1347.5 1317.2,1344.3 1317.6,1339.7ZM1095.3,1292.1 1182.2,1307.6 1182.2,1323.2 1157.4,1338.7 1134.1,1350.3 1110.8,1354.2 1103.8,1367.4 1064.2,1379.1 1033.2,1385.3 1028.5,1381.4 1033.2,1376.7 1047.1,1365.1 1051,1358.9 1058,1323.2 1040.9,1289Z"/>
<path fill="#465f7e" d="M192,928.3 201.7,927.4 202.4,922.2 214.8,920 229.6,921.1 226.7,925.7 232.2,928.7 245.2,927.6 264.8,925.2 279.6,923.9 281.7,918.5 268,917.4 273.5,909.3 251.7,908 256.1,904.3 255,895.7 245.2,888 251.7,884.8 264.8,880.9 284.3,877.8 303.9,875.7 314.8,871.7 332.2,863 345.2,857 358.3,855 375.7,854.3 384.3,851.7 393,848.3 408.3,847.4 425.7,847.4 436.5,843.9 445.7,840.4 451.3,840.7 443.5,849.6 454.3,844.8 462.6,842.2 458.5,848.9 471.3,847.2 485,849.3 486.5,853.9 501.7,853.5 515.9,853.7 527.8,856.1 538.7,857.2 549.6,857.8 558.3,860.9 566.5,864.3 573.9,862 584.8,860.4 593,860.2 598.5,863.5 602.2,868 405.5,1030.8 407.3,1032.7 418.5,1032 431.6,1030.8 427.8,1033.9 426.6,1040.7 428.4,1045.7 432.8,1051.3 428.2,1056.3 437.1,1052.9 447.1,1049.4 455.8,1046.3 459.5,1043.2 465.7,1041.4 474.4,1041.1 476.9,1043.5 472.5,1045.7 471.3,1052.5 469.4,1058.1 473.8,1064.3 474.4,1070.6 472.5,1076.1 469.4,1078.6 470.1,1084.8 468.2,1092.3 466.3,1098.5 469.4,1102.9 476.3,1106.6 480.6,1109.7 478.1,1113.4 471.9,1117.1 470.1,1122.1 468.2,1127.1 459.5,1132 452,1135.2 448.2,1131 458.1,1126.6 464.3,1122.3 458.1,1123.5 463.1,1116.7 468.1,1109.3 461.9,1110.5 454.4,1111.1 459.4,1106.8 455.7,1103.7 459.4,1099.3 458.1,1094.3 454.4,1088.1 463.1,1079.4 469.3,1077 464.3,1074.5 468.1,1064.5 459.4,1066.4 463.1,1057.7 459.4,1052.1 463.1,1045.9 454.4,1054.6 447,1063.3 445.1,1065.8 447,1059.6 451.9,1053.4 440.7,1054.6 434.5,1055.8 428.1,1055.8 433.3,1064.5 419.6,1064.5 417.1,1063.3 415.9,1052.1 408.4,1046.5 409.7,1044.7 420.9,1038.4 412.2,1038.7 403.5,1040.3 396,1039.7 397.3,1032.2 389.9,1036 378.8,1035.4 366.3,1034.5 356.4,1033.3 350.8,1031.4 356.4,1024.6 360.7,1019.9 353.9,1023.4 345.8,1028.1 345.2,1023.4 340.2,1021.9 347.7,1017.1 351.4,1013.7 341.5,1015.9 334,1017.8 329.1,1014.7 322.9,1015.9 311.7,1019.6 304.2,1022.1 304.8,1024.6 301.7,1029.6 291.8,1036 279.4,1036.4 267,1037 257,1040.7 249.6,1042.6 244.6,1040.5 243.4,1038.3 254.5,1034.5 264.5,1029.6 270.7,1024 278.1,1023.4 286.8,1018.1 296.8,1020.6 302.4,1020.6 291.8,1013.7 286.8,1012.8 279.4,1015.3 267,1020.9 254.5,1027.1 244.6,1031.4 235.3,1030.6 238.4,1034.5 229.7,1037.6 217.3,1042.6 204.8,1047 192.4,1053.2 192,974.6 200.7,973.9 206.1,970.7 214.8,963 215.9,957 230.4,954.8 231.5,947.8 228.9,946.1 219.1,950 212.6,950 197.4,955.4 192,952.2ZM229.7,1047 238.4,1045.7 249.6,1042.2 252.7,1041.7 245.8,1045.7 235.9,1050.7 231.6,1050.1ZM192.4,1055 197.4,1056.3 196.1,1058.1 192.4,1059.1ZM192.4,1068.7 198.6,1065.8 202.4,1066.6 205.5,1069.9 201.1,1069.9 197.4,1073 192.4,1074.3ZM429.6,1074.5 434.5,1071.4 440.7,1073.2 441.4,1077 434.5,1080.7 431.4,1078.8ZM440.7,1085.7 445.7,1077 450.7,1072 454.4,1073.2 451.9,1079.4 447,1084.4ZM415.9,1102.4 420.9,1090.6 427.1,1084.4 432,1086.3 429.6,1093.1 422.1,1100.6 417.1,1105.5ZM437,1099.3 442,1095.6 449.4,1093.7 450.7,1096.2 444.5,1099.9 439.5,1101.8ZM425.8,1119.2 430.8,1115.5 432,1109.3 435.8,1107.4 439.5,1113 434.5,1116.7 433.3,1121.7 435.8,1126.6 428.3,1132.9 426.5,1125.4ZM443.2,1127.9 447,1119.2 451.9,1116.7 453.2,1121.7 449.4,1126ZM417.1,1133.5 419,1127.3 420.9,1127.3 419.6,1133.5ZM479.3,1247.3 521.5,1247.3 521.5,1290.5 430.2,1290.5 430.8,1286.4 431.4,1282.7 434.5,1278.9 437,1275.2 434.5,1271.5 436.4,1265.3 437,1260.3 440.7,1258.4 447,1258.4 450.7,1261.6 455.7,1264 464.3,1263.4 459.4,1267.8 454.4,1274 451.9,1277.7 449.4,1283.3 455.7,1278.3 461.9,1275.2 465.6,1270.2 467.5,1266.8 471.8,1266.5 475.5,1264 477.4,1259.1 478.6,1252.9ZM939.2,1258.7 949.3,1261.1 954.8,1264.9 963.3,1258.7 964.1,1261.8 972.6,1261.8 981.9,1264.2 1017.6,1276.6 1048.7,1292.1 1051,1293.7 1058,1323.2 1051.8,1358.9 1048.7,1359.7 1047.1,1365.1 1045.6,1370.5 1039.4,1373.6 1033.2,1376.7 1029.3,1380.6 1030.1,1383 1040.9,1383.7 1064.2,1377.5 1087.5,1371.3 1103,1367 1102.3,1360.4 1110.8,1352.7 1134.1,1349.6 1154.3,1338.7 1156.6,1337.1 1163.6,1335.6 1172.9,1329.4 1181.5,1323.2 1188.4,1322.7 1238.1,1322.7 1240.5,1318.5 1249,1316.2 1255.2,1310.7 1259.9,1309.2 1263.8,1307.6 1265.3,1301.4 1272.3,1296.8 1273.9,1290.6 1279.3,1284.3 1287.8,1277.4 1292.5,1275 1297.1,1276.6 1303.4,1278.4 1311.1,1278.4 1313,1281.2 1311.9,1287.5 1309.6,1295.2 1306.5,1304.5 1304.1,1312.3 1304.9,1317 1308,1320.1 1307.7,1327.8 1297.1,1330.9 1289.4,1333.3 1278.5,1338.7 1277.7,1333.3 1269.2,1338.7 1261.4,1344.1 1258.3,1342.6 1256.8,1346.5 1249,1348 1244.3,1352.7 1238.1,1358.9 1233.5,1365.1 1231.9,1371.3 1226.5,1375.2 1230.4,1379.1 1231.9,1385.3 1240.5,1383 1240.5,1386.8 1235,1389.9 1227.3,1394.6 1227.3,1389.9 1221.1,1389.9 1218.7,1387.6 1213.3,1391.5 1207.1,1396.1 1196.2,1397.7 1182.2,1398.5 1172.9,1401.6 1169.8,1405.5 1176,1407 1185.3,1405.5 1196.2,1402.4 1188.4,1406.2 1179.1,1410.1 1169.8,1410.9 1162,1411.7 1160.5,1415.6 1141.9,1424.1 939.2,1424.1ZM1452,1261.2 1457.4,1258.1 1465.2,1254.3 1472.9,1248 1480.7,1241.8 1488.4,1234.1 1496.2,1224.8 1504,1215.4 1510.2,1207.7 1514.8,1203 1521.1,1199.9 1527.3,1198.4 1533.5,1198.4 1534.7,1200.7 1531.9,1203.8 1528,1206.1 1526.5,1210.8 1522.6,1217 1518,1220.1 1511.7,1221.6 1508.6,1224.8 1504,1230.2 1501.6,1235.6 1502.4,1240.3 1507.1,1236.4 1511.7,1231 1514.8,1225.5 1519.5,1227.9 1524.2,1231 1524.2,1236.4 1528.8,1238.7 1531.9,1240.3 1532.7,1244.9 1538.1,1243.4 1542.8,1240.3 1546.7,1238 1549.8,1240.3 1544.3,1244.9 1542.8,1249.6 1551.3,1250.4 1549,1255.8 1545.9,1262 1541.2,1269.8 1544.3,1270.6 1538.1,1273.7 1547.5,1275.2 1554.4,1273.2 1556,1278.3 1550.6,1283.8 1544.3,1288.4 1538.9,1291.8 1531.1,1290.7 1535,1286.1 1528.8,1283.8 1519.5,1284.5 1508.6,1285.3 1499.3,1283.8 1507.1,1281.4 1504,1277.5 1494.7,1275.2 1485.3,1272.9 1476,1270.6 1466.7,1269.8 1457.4,1271.3 1452.7,1269.8 1452.7,1267.5 1460.5,1265.1 1454.3,1263.6ZM479.3,1247.2 903.8,1247 905.3,1243.2 907.7,1239.3 910.8,1237.7 913.1,1240.1 910.8,1243.9 909.2,1247 911.6,1250.2 917.8,1252.5 924,1255.6 927.1,1256.4 931,1252.5 934.8,1252.5 939.5,1257.1 944.2,1259.5 948.8,1261 953.5,1264.9 958.1,1262.6 962,1260.2 963.6,1258.7 964.3,1261 970.6,1261.8 976.8,1263.4 982.2,1264.9 1001.6,1274.2 1000,1300 960,1400 479.3,1400ZM479,1270 960,1270 960,1400 701,1400 700.6,1665.5 695.2,1667 692.9,1675.6 685.9,1674.8 689.8,1681 686.6,1682.5 687.4,1690.3 689,1698.1 689.8,1705.5 685.1,1705.1 680.4,1702 672.7,1701.2 671.1,1698.1 664.9,1696.5 660.2,1695 659.5,1688.8 656.4,1682.5 657.1,1676.3 657.9,1670.9 652.5,1667 651.7,1660.8 647.8,1656.9 648.6,1649.9 647.8,1642.2 641.6,1633.6 637,1627 624.5,1626.6 623.3,1625.1 623,1626.6 618.3,1627 615.2,1629.8 610.6,1637.5 605.9,1642.2 601.2,1642.5 595,1639.1 588.8,1633.6 584.9,1629.8 584.9,1625.1 585.7,1618.9 584.9,1612.7 581.1,1608 576.4,1605.7 575.6,1603.4 573.3,1597.9 567.9,1595.6 566.3,1590.9 563.2,1586.3 548.4,1586.3 536,1586.6 533.7,1588.1 533.7,1592.5 532.1,1596.2 517.4,1596.5 501.9,1596.8 481.7,1597.1 470.8,1592.5 455.3,1585.5 439.8,1578.5 428.6,1573.1 430.4,1571.1 429.7,1569.5 408.7,1570.4 393.2,1571.1 393.9,1564.5 393.9,1558.3 391.6,1553.7 387,1549.8 382.3,1545.9 380.7,1540.5 373,1542 368.3,1540.5 366.8,1536.6 362.1,1534.3 354.3,1533.8 350.5,1531.6 352.8,1527.3 355.9,1521.8 353.6,1516.4 349.7,1510.2 346.6,1504 344.3,1498.5 345,1494.7 346.6,1505.5 345.8,1503.6 344.3,1498.2 346.6,1493.5 349.7,1489.6 350.5,1482.6 345.8,1481.1 343.2,1478 345,1471.8 348.1,1467.9 352.8,1471.8 353.6,1464 360.6,1462 368.3,1460.9 359,1460.4 351.2,1460.1 345.8,1461.7 343.5,1453.9 341.1,1446.9 341.9,1441.5 345,1436.1 348.1,1431.4 349.7,1426 346.6,1421.3 344.3,1416.6 345.8,1412.8 351.2,1407.3 357.5,1401.1 362.9,1394.9 364.9,1388.7 365.2,1382.5 366.8,1377.8 370.7,1374.7 371.4,1370.1 373.8,1364.6 377.6,1360.7 383.9,1357.6 383.1,1353 384.6,1349.9 390.1,1343.7 396.3,1335.9 402.5,1328.1 408.7,1320.4 414.9,1312.6 419.6,1305.6 424.2,1300.2 432.8,1301.7 434.3,1299.4 427.3,1295.5 429.7,1291.6 431.2,1287 438.2,1284.3 430.4,1284.7 432,1279.2ZM689.2,1499.2 1090.6,1499.2 1090.6,1510.9 1081.3,1514 1085.2,1519.4 1079.8,1524.1 1087.5,1524.8 1089.1,1527.6 1082.9,1528 1075.1,1526.4 1068.9,1529.5 1067.3,1533.4 1064.2,1534.2 1061.1,1539.6 1054.9,1544.3 1045.6,1544.7 1039.4,1547.4 1034.7,1552.8 1030.1,1559.8 1023.9,1562.9 1018.4,1564.4 1016.1,1570.7 1009.9,1570.7 1004.4,1572.2 1003.7,1574.5 1000.6,1575.3 999,1579.2 992.8,1585.4 988.1,1591.6 983.5,1599.4 979.6,1607.1 979.1,1618 978.8,1628.9 981.9,1638.2 984.3,1646.7 983.5,1655.3 982.7,1664.6 985,1675.5 987.4,1684.8 985.8,1692.5 982.7,1700.3 981.1,1707.3 976.5,1709.6 974.2,1717.4 968,1719.7 962.5,1714.3 963.3,1709.6 961.7,1705 957.1,1701.9 955.5,1692.5 953.2,1691.3 954.8,1686.3 955.5,1680.9 950.1,1684 947.8,1679.3 946.2,1673.9 950.9,1670.8 951.6,1668.5 947.8,1665.4 946.2,1661.5 948.5,1656.8 951.6,1650.6 953.2,1642.9 952.4,1638.2 947.8,1637.4 943.1,1635.1 940,1630.4 936.9,1624.2 932.2,1620.3 927.6,1620.3 922.9,1622.7 918.3,1626.6 913.6,1629.2 910.5,1627.3 908.9,1622.7 908.2,1616.5 905.1,1616.8 901.2,1616.5 898.9,1612.1 895.7,1611 893.4,1614.1 891.9,1611.8 887.2,1611.5 879.4,1613.4 873.5,1614.9 872.9,1608.7 870.9,1605.6 868.9,1608.7 867,1614.1 860.8,1614.6 856.9,1613.4 851.5,1614.1 845.3,1617.2 839.8,1618 834.4,1616.5 829.8,1615.7 826.6,1618.8 827.4,1622.7 832.9,1623.4 840.6,1623.9 841.4,1625.8 839.1,1628.1 834.4,1628.6 835.2,1630.4 839.8,1635.1 844.5,1639 843.7,1641.3 839.1,1641.6 835.2,1637.4 830.5,1632 826.6,1631.2 828.2,1635.1 827.9,1640.5 825.1,1641.3 822,1637.4 818.9,1636.6 817.3,1639.4 812.7,1638.5 807.2,1637.4 805.7,1631.2 802.6,1625.8 799.5,1623.4 796.4,1624.2 793.3,1628.1 789.4,1631.2 784.7,1628.9 780.8,1624.2 777.3,1620.3 774.6,1622.7 771.5,1625.8 768.4,1623.4 765.3,1621.1 762.2,1624.2 759.1,1628.9 755.2,1632 750.6,1628.9 745.9,1626.6 744,1628.9 743.6,1635.1 741.2,1639.8 736.6,1644.4 728.8,1648.3 720.3,1651.4 717.2,1647.5 714.1,1648.3 712.5,1652.2 708.6,1653 709.4,1658.4 702.4,1659.2 700.9,1664.6 694.7,1665.8 693.9,1667.7 693.1,1674.7 689.2,1675.5ZM1236,1359.2 1234.5,1366.2 1229.8,1372.4 1226.7,1375.5 1231.4,1380.2 1232.1,1386.4 1237.6,1385.6 1239.1,1381.7 1241,1383.3 1239.9,1388.7 1232.9,1391.8 1227.5,1394.9 1226.7,1389.5 1220.5,1390.3 1218.9,1388 1214.3,1392.6 1206.5,1397.3 1197.2,1397.6 1186.3,1398 1178.6,1398.8 1172.4,1401.1 1170,1404.3 1172.4,1406.6 1180.1,1406.6 1189.4,1404.3 1197.2,1401.9 1198.8,1403.5 1191,1406.6 1183.2,1409.7 1177,1410.9 1167.7,1411.2 1162.3,1412 1160.7,1415.1 1164.6,1418.2 1158.4,1423.7 1152.2,1429.9 1146,1437.6 1139,1445.4 1138.2,1437.6 1136.6,1431.4 1137.9,1426 1135.9,1425.2 1133.5,1429.9 1132.8,1437.6 1133.2,1447 1132.8,1457 1127.3,1463.3 1119.6,1468.7 1114.1,1474.9 1110.6,1480.3 1111,1474.9 1114.1,1467.1 1117.2,1460.9 1119.6,1456.3 1116.5,1454.7 1118.8,1448.5 1122.7,1440.7 1125.8,1434.5 1125.8,1432.2 1121.9,1434.5 1116.5,1440.7 1111.8,1447 1109.5,1454.7 1108.7,1459.4 1104,1456.3 1101.7,1452.4 1103.3,1447.7 1099.4,1449.3 1094.7,1453.2 1097.8,1457.8 1099.4,1465.6 1103.3,1471.8 1105.6,1475.7 1100.9,1474.9 1104,1479.6 1099.4,1478 1092.4,1475.7 1097,1480.3 1098.6,1485.8 1105.6,1485 1106.4,1488.9 1105.6,1496.6 1099.4,1499 1093.2,1501.3 1090.8,1498.2 1090.4,1505.2 1104,1506 1100.9,1509.1 1096.3,1513 1090.1,1511.4 1082.3,1513 1085.4,1518.4 1082.3,1522.3 1078.4,1523.8 1089.3,1523.4 1089.3,1527.7 1080.7,1528.5 1074.5,1529.3 1068.3,1530 1067.5,1534.7 1063.7,1534.7 1061.3,1540.1 1057.5,1544.8 1051.2,1544.8 1045,1545.6 1039.6,1548.7 1035.7,1554.1 1031.1,1560.3 1028,1561.9 1023.3,1562.6 1018.6,1565 1017.1,1570.4 1009.3,1572 1003.9,1572 1003.1,1575.8 999.2,1575.1 999.2,1406.6 1108.7,1400.4 1118,1359.2ZM479.3,1255 1005,1300 1005,1505 695,1505 695,1665 560,1600 420,1500 440,1300Z"/>
<path fill="#112742" d="M393.2,1571.1 408.7,1570.4 429.7,1569.5 430.4,1571.1 428.6,1573.1 439.8,1578.5 455.3,1585.5 470.8,1592.5 481.7,1597.1 501.9,1596.8 517.4,1596.5 532.1,1596.2 533.7,1592.5 533.7,1588.1 536,1586.6 548.4,1586.3 563.2,1586.3 566.3,1590.9 567.9,1595.6 573.3,1597.9 575.6,1603.4 576.4,1605.7 581.1,1608 584.9,1612.7 585.7,1618.9 584.9,1625.1 584.9,1629.8 588.8,1633.6 595,1639.1 601.2,1642.5 605.9,1642.2 610.6,1637.5 615.2,1629.8 618.3,1627 623,1626.6 623.3,1625.1 624.5,1626.6 637,1627 641.6,1633.6 647.8,1642.2 648.6,1649.9 647.8,1656.9 651.7,1660.8 652.5,1667 657.9,1670.9 657.1,1676.3 656.4,1682.5 659.5,1688.8 660.2,1695 664.9,1696.5 671.1,1698.1 672.7,1701.2 680.4,1702 685.1,1705.1 689.8,1705.5 688.2,1710.5 681.1,1715.8 677.3,1716.6 676.5,1730.5 671.1,1732.1 670.3,1743 670.3,1753.8 668.7,1761.6 664.8,1769.3 664.8,1781.8 665.6,1792.6 668.7,1798.9 669.5,1808.2 674.9,1817.5 679.6,1825.2 680.1,1833.8 684.3,1840.8 687.4,1848.5 695.1,1849.8 702.9,1850.9 706,1854.8 709.1,1861 718.4,1857.1 727.7,1854 740.2,1851.6 751,1849.3 755.7,1849.3 758.8,1854.8 764.2,1854.8 766.6,1850.1 767.3,1843.9 772,1840.8 776.6,1838.4 781.3,1836.1 782.1,1826.8 786,1826 786.7,1815.9 787.5,1808.2 790.6,1802 793.7,1797.3 803,1796.1 812.4,1795 820.1,1792.6 826.3,1791.4 832.5,1792.3 840.3,1793.9 846.5,1792.2 851.2,1792.6 852.7,1795.7 851.5,1802 848.1,1808.2 841.9,1814.4 836.4,1820.6 835.7,1826.8 831,1830.7 835.7,1833.8 832.5,1835.3 828.7,1834.6 831.8,1839.2 830.2,1847 827.9,1854.8 824.8,1855.5 824,1851.6 825.6,1843.9 820.9,1848.5 815.5,1854 814.7,1851.6 811.6,1857.9 809.3,1862.5 806.1,1864.1 804.6,1861.7 801.5,1862.5 800.7,1864.8 768.9,1865.3 768.1,1870.3 768.1,1875.7 762.7,1877.3 755.7,1877.7 760.3,1879.6 763.4,1885.8 768.9,1889.7 771.2,1893.6 775.1,1893.6 775.9,1896.4 772.8,1897 772.8,1900.6 760.3,1900.6 751,1900.6 742.8,1912.2 742.5,1920 742.8,1929.3 741.7,1933.9 739.1,1935.5 737,1929.3 734.7,1922.3 727.7,1916.1 718.4,1908.3 710.7,1901.3 703.7,1895.9 693.6,1899.8 684.3,1903.7 674.9,1907.5 668.7,1910.3 664.1,1909.1 660.2,1902.6 651.6,1902.9 643.9,1903.7 640.9,1900.6 636.2,1897.5 631.6,1893.6 626.9,1888.1 619.1,1885.8 609.8,1883.9 602,1881.9 594.3,1877.3 588.1,1871.8 583.4,1865.6 578.8,1860.7 569.4,1859.7 560.1,1859.1 556.2,1856.3 552.4,1850.1 548.5,1843.1 543,1839.2 535.3,1837.7 528.3,1836.1 524.4,1831.5 522.9,1823.7 522.9,1814.4 526,1811.3 533.7,1810 531.4,1808.2 528.3,1804.3 531.4,1799.6 534.5,1794.2 533,1789.5 530.6,1783.3 530.6,1777.1 529.8,1769.3 526,1761.6 520.5,1753.8 515.1,1746.1 508.9,1738.3 508.1,1731.3 498.8,1730.5 501.1,1722.8 499.6,1718.1 491,1714.2 489.4,1705.8 486.3,1707.4 484,1710.5 480.1,1707.4 481.7,1704.3 486.3,1700.4 490.2,1698.1 489.4,1691.9 486.3,1687.2 479.3,1685.7 477,1680.2 470.8,1677.9 468.5,1673.2 470,1668.6 473.1,1664.7 467.7,1664.7 463,1662.4 459.9,1657.7 456.8,1651.5 453.7,1642.2 451.4,1632.9 449.8,1622 449.1,1611.1 449.1,1598.7 446,1596.4 442.9,1594 441.3,1589.4 436.6,1590.9 432,1590.9 427.3,1587.8 422.7,1583.9 421.1,1590.9 418.3,1598.7 418.8,1604.9 418,1611.1 414.9,1618.1 418,1622 421.1,1627.4 424.2,1634.4 425.8,1642.2 428.9,1648.4 433.5,1654.6 433.5,1670.1 436.6,1674 439.8,1679.4 439.8,1688.8 445.2,1689.5 448.3,1691.9 446.7,1698.1 446,1704.3 449.1,1710.5 450.6,1715.5 450.7,1727.4 452.2,1733.6 455.3,1738.3 459.2,1738.3 463.1,1740.6 465.4,1746.1 467,1752.3 468.8,1756.9 466.2,1759.3 462.3,1762.4 457.6,1764.4 455.3,1762.4 455.3,1757.7 456.9,1754.6 453,1751.5 448.3,1746.1 442.1,1738.3 435.9,1730.5 431.2,1724.3 429.7,1719.7 430.5,1714.2 433.5,1712 435.1,1707.4 433.5,1702.7 428.9,1696.5 424.2,1688.8 423.4,1682.5 421.1,1683.3 414.9,1686.4 408.7,1679.4 402.5,1678.7 400.9,1673.2 396.3,1667.8 405.6,1668.9 408.7,1672.5 412.6,1670.9 410.2,1667 411.8,1666.2 415.7,1660.8 417.2,1654.6 414.9,1646.8 411.8,1639.8 408.7,1635.2 402.5,1633.6 399.4,1630.5 397.8,1623.5 397.8,1614.2 394.7,1612.7 397,1605.7 393.9,1601 396,1597.1 393.2,1592.5 396.3,1590.9 395,1584.7 392.4,1578.5Z"/>
<path fill="#f4f8fc" d="M736.8,928.6 741.5,925.5 750.8,921.9 763.2,921.6 766.3,919.8 780.3,918.5 791.2,917 800.5,914.6 809.8,913.1 817.6,913.5 822.2,911.1 828.4,911.5 834.7,914.6 828.4,916.6 822.2,918.5 812.9,919.8 806.7,921.6 812.9,923.2 825.3,923.2 834.7,920.8 840.9,918.2 845.8,918.5 844,922.4 836.2,927 828.4,930.2 823.8,932.5 820.7,936.4 812.9,935.6 808.3,933.7 803.6,935.6 798.2,936.4 795.8,941 788.1,944.9 780.3,947.2 771,949.3 763.2,949.9 760.9,948 766.3,945.7 775.7,942.6 785,938.7 787.3,936.8 781.9,937.9 774.1,940.6 766.3,944.1 760.1,946.8 750.8,946.8 741.5,944.9 738.7,943 744.6,940.6 753.9,938.7 763.2,934 766.3,930.9 761.7,927.8 753.9,928.1 746.1,929.4 739.9,930.2ZM752,1016.3 755.5,1014.8 763.2,1011.4 771,1012.9 777.2,1010.9 781.9,1007 789.6,1004.7 797.4,1003.1 801.3,999.3 799.7,994.6 796.6,991.5 795.8,987.6 798.9,986.1 803.6,989.9 808.3,993 817.6,994.9 818.4,999.6 822.2,1000 830,998.5 840.9,994.6 850.2,989.9 859.5,986.1 868.8,984 878.1,983.4 889,984.5 896,986.1 893.7,988.4 886.7,991.2 882.8,987.6 880.5,991.5 875,991.5 871.9,993.8 864.2,994.6 854.8,997.7 844,1003.1 834.7,1007 825.3,1010.1 819.1,1011.7 809.8,1010.9 803.6,1014 800.5,1018.7 791.2,1019.1 788.1,1021 778.8,1021.8 767.9,1022.5 760.1,1020.7 753.9,1018.7ZM1275.2,1094.2 1273.7,1099.7 1270.6,1104.3 1265.9,1109.8 1258.1,1115.2 1250.4,1119.8 1242.6,1124.5 1233.3,1128.4 1224,1129.9 1211.6,1131.5 1203.5,1133 1203.8,1138.5 1205.7,1144.7 1205.3,1150.9 1203,1157.1 1199.1,1164.1 1196,1171.1 1196.8,1177.3 1196,1183.5 1189.8,1187.4 1183.6,1191.3 1183.6,1197.5 1180.5,1202.1 1177.1,1206 1176.6,1200.6 1175.8,1196.7 1171.2,1198.3 1167.3,1202.1 1166.5,1206.8 1165.3,1212.2 1162.6,1204.5 1158.8,1202.9 1152.5,1203.7 1145.6,1204.5 1152.5,1199 1156.4,1194.4 1154.1,1190.5 1147.9,1185.8 1142.5,1183.2 1147.9,1178.9 1145.6,1173.4 1144,1168 1146.3,1165.7 1151.8,1161.8 1152.5,1154.8 1158,1150.9 1157.2,1146.2 1158.8,1140.8 1165,1136.9 1168.9,1133 1168.1,1129.9 1161.9,1127.6 1151,1126.1 1138.6,1125.7 1129.3,1126.8 1122.3,1127.9 1123.8,1124.5 1126.1,1119.8 1121.5,1117.5 1113.7,1115.2 1104.4,1112.9 1103.6,1107.4 1101.3,1102 1096.6,1098.1 1090.4,1094.2ZM955.5,1391.5 954.8,1383.7 954,1379.1 957.1,1372.9 960.2,1366.6 960.2,1360.4 964.8,1354.2 971.1,1348 977.3,1341.8 983.5,1335.6 986.6,1330.2 978.8,1332.5 973.4,1331.7 974.2,1328.6 981.9,1324.7 989.7,1320.1 997.5,1315.4 1002.1,1310.7 1006.8,1307.6 1009.9,1304.5 1014.5,1304.2 1022.3,1303 1028.5,1303.8 1033.2,1306.1 1034.7,1309.2 1029.3,1312.3 1028.5,1317 1022.3,1317 1021.5,1320.1 1020.7,1326.3 1016.9,1328.6 1013,1327 1014.5,1323.2 1011.4,1321.6 1005.2,1326.3 1002.1,1330.9 997.5,1337.1 993.6,1341.8 994.3,1345.7 989.7,1352.7 989.7,1358.9 986.6,1366.6 981.9,1374.4 975.7,1381.4 968,1386.8 961.7,1389.9ZM1037,1307.6 1039.4,1304.5 1048.7,1302.2 1051.8,1298.3 1058,1298.3 1067.3,1299.1 1076.6,1299.9 1084.4,1303 1095.3,1303.8 1101.5,1306.1 1104.6,1312.3 1106.9,1317 1104.6,1321.6 1106.1,1324.7 1109.3,1327 1103,1327.8 1101.5,1332.5 1098.4,1335.6 1093.7,1334 1087.5,1329.4 1082.9,1323.2 1081.3,1319.3 1079.8,1326.3 1076.6,1335.6 1072,1341.8 1067.3,1346.5 1062.7,1352.7 1058,1358.9 1053.4,1361.2 1050.2,1358.9 1048.7,1352.7 1049.5,1344.9 1045.6,1345.7 1039.4,1348.8 1033.2,1351.9 1029.3,1350.3 1030.1,1346.5 1036.3,1341.8 1042.5,1335.6 1048.7,1329.4 1051.8,1323.2 1051,1317 1047.1,1312.3 1040.9,1310ZM1020,1388.4 1027,1385.3 1029.3,1380.6 1033.2,1377.5 1040.9,1374.4 1048.7,1375.2 1054.9,1372.1 1062.7,1369 1072,1369 1079.8,1368.2 1087.5,1366.6 1095.3,1365.9 1103,1366.6 1104.6,1368.2 1095.3,1372.9 1086,1377.5 1076.6,1382.2 1067.3,1386.1 1058,1389.9 1048.7,1393 1040.9,1395.4 1033.2,1396.9 1027,1394.6 1023.9,1391.5ZM1094.5,1357.3 1096.8,1352.7 1101.5,1348.8 1109.3,1345.7 1118.6,1344.1 1126.3,1342.6 1134.1,1341 1141.9,1340.6 1145,1338.7 1148.1,1337.1 1152.7,1336.8 1156.6,1338.7 1155.8,1343.4 1152,1347.2 1151.2,1352.7 1145,1355 1138.8,1356.6 1132.5,1358.1 1126.3,1358.9 1118.6,1356.6 1110.8,1357.3 1103,1359.7 1096.8,1360.4ZM1256.8,1285.1 1266.1,1281.2 1275.4,1276.6 1284.7,1270.4 1290.9,1264.9 1287.8,1261.8 1283.2,1258.7 1289.4,1259.5 1294,1260.3 1300.2,1254.8 1309.6,1247.1 1318.9,1240.9 1331.3,1237.8 1340.6,1236.2 1340.6,1245.5 1331.3,1247.9 1322,1251 1312.7,1256.4 1303.4,1264.2 1295.6,1271.1 1286.3,1276.6 1277,1281.2 1266.1,1285.1ZM892.9,1164 896,1159.3 902.2,1153.9 906.9,1150.8 911.6,1150 917.8,1152.3 922.4,1157 923.2,1162.4 920.9,1167.1 917.8,1173.3 916.2,1181.1 915.4,1188.8 914.7,1194.3 917,1198.1 916.2,1202.8 914.7,1207.5 911.6,1211.3 908.4,1212.9 904.6,1213.7 901.5,1215.2 897.6,1218.3 894.5,1217.5 893.7,1215.2 896,1211.3 899.1,1207.5 902.2,1202.8 905.3,1198.1 908.4,1194.3 905.3,1193.5 901.5,1197.4 900.7,1195 903.8,1190.4 906.1,1186.5 903.8,1184.9 900.7,1188 896.8,1188.8 894.5,1186.5 895.2,1181.1 894.5,1174.8 896,1170.2 902.2,1167.1 896,1167.1ZM928.6,1288.2 933.3,1285.1 944.2,1281.2 955,1276.6 965.9,1271.9 976.8,1268 982.2,1264.9 987.6,1258.7 992.3,1254 1000.1,1253.3 1003.9,1248.6 1007.8,1249.4 1012.5,1244.7 1016.4,1243.9 1021.8,1246.3 1029.6,1248.6 1037.3,1249.4 1039.7,1252.5 1039.7,1260.2 1038.1,1266.5 1045.1,1266.5 1052.9,1264.1 1057.2,1265.7 1056,1269.6 1051.3,1271.9 1048.2,1275 1051.3,1278.1 1049,1283.5 1050.5,1289.8 1052.1,1293.6 1048.2,1295.2 1042,1292.1 1035.8,1291.3 1029.6,1292.5 1021.8,1293.6 1014,1295.2 1007.8,1294.4 1002.4,1290.5 1000.1,1287.4 995.4,1285.1 989.2,1282.8 993.9,1279.7 1000.1,1276.6 990.7,1278.9 983,1282 975.2,1285.1 967.5,1287.4 961.2,1288.2 955,1290.5 948.8,1292.1 947.3,1289 939.5,1290.5 933.3,1291.3 929.4,1290.5Z"/>
<path fill="#8aa3c0" d="M767.9,927 774.1,924.7 781.9,925 787.3,927.5 783.4,929.4 775.7,929.7ZM1217,1105.9 1218.5,1103.1 1224,1102 1228.6,1103.5 1229.4,1106.6 1226.3,1109.3 1221.6,1110.5 1218.1,1109ZM1156.4,1169.5 1160.3,1167.7 1164.2,1166.7 1168.1,1168.3 1170.4,1170.3 1166.5,1171.9 1160.3,1171.9Z"/>
<path fill="none" stroke="#f4f8fc" stroke-width="2" stroke-linejoin="round" d="M1051,1293.7 1051.5,1298.3M1051.8,1358.9 1048.7,1359.7 1047.1,1365.1 1045.6,1370.5 1039.4,1373.6 1033.2,1376.7 1029.3,1380.6M1103,1367 1102.3,1360.4M1156.6,1337.1 1163.6,1335.6 1172.9,1329.4 1181.5,1323.2 1188.4,1322.7 1238.1,1322.7 1240.5,1318.5 1249,1316.2 1255.2,1310.7 1259.9,1309.2 1263.8,1307.6 1265.3,1301.4 1272.3,1296.8 1273.9,1290.6 1279.3,1284.3 1287.8,1277.4 1292.5,1275 1297.1,1276.6 1303.4,1278.4 1311.1,1278.4 1313,1281.2 1311.9,1287.5 1309.6,1295.2 1306.5,1304.5 1304.1,1312.3 1304.9,1317 1308,1320.1 1307.7,1327.8M602.2,868 405.5,1030.8 407.3,1032.7 418.5,1032 431.6,1030.8 427.8,1033.9 426.6,1040.7 428.4,1045.7 432.8,1051.3 428.2,1056.3 437.1,1052.9 447.1,1049.4 455.8,1046.3 459.5,1043.2 465.7,1041.4 474.4,1041.1 476.9,1043.5 472.5,1045.7 471.3,1052.5 469.4,1058.1 473.8,1064.3 474.4,1070.6 472.5,1076.1 469.4,1078.6 470.1,1084.8 468.2,1092.3 466.3,1098.5 469.4,1102.9 476.3,1106.6 480.6,1109.7 478.1,1113.4 471.9,1117.1 470.1,1122.1 468.2,1127.1 459.5,1132 452,1135.2M479.3,1247.2 903.8,1247 905.3,1243.2 907.7,1239.3 910.8,1237.7 913.1,1240.1 910.8,1243.9 909.2,1247 911.6,1250.2 917.8,1252.5 924,1255.6 927.1,1256.4 931,1252.5 934.8,1252.5 939.5,1257.1 944.2,1259.5 948.8,1261 953.5,1264.9 958.1,1262.6 962,1260.2 963.6,1258.7 964.3,1261 970.6,1261.8 976.8,1263.4 982.2,1264.9M393.2,1571.1 408.7,1570.4 429.7,1569.5 430.4,1571.1 428.6,1573.1 439.8,1578.5 455.3,1585.5 470.8,1592.5 481.7,1597.1 501.9,1596.8 517.4,1596.5 532.1,1596.2 533.7,1592.5 533.7,1588.1 536,1586.6 548.4,1586.3 563.2,1586.3 566.3,1590.9 567.9,1595.6 573.3,1597.9 575.6,1603.4 576.4,1605.7 581.1,1608 584.9,1612.7 585.7,1618.9 584.9,1625.1 584.9,1629.8 588.8,1633.6 595,1639.1 601.2,1642.5 605.9,1642.2 610.6,1637.5 615.2,1629.8 618.3,1627 623,1626.6 623.3,1625.1 624.5,1626.6 637,1627 641.6,1633.6 647.8,1642.2 648.6,1649.9 647.8,1656.9 651.7,1660.8 652.5,1667 657.9,1670.9 657.1,1676.3 656.4,1682.5 659.5,1688.8 660.2,1695 664.9,1696.5 671.1,1698.1 672.7,1701.2 680.4,1702 685.1,1705.1 689.8,1705.5"/>
</g>
<path fill="#8aa3c0" d="M1757,677.5 L1777,675.5 L1773,679 L1757,682Z"/>
</svg>
</section>
<section class="chart">
<h2 class="t " style="top:630.09px;font-size:47.5px;font-weight:700;color:#112742"><span class="w" style="left:1776.39px;transform:scaleX(1.0802)">North</span> <span class="w" style="left:1922.98px;transform:scaleX(1.0197)">American</span> <span class="w" style="left:2155.99px;transform:scaleX(1.0055)">Countries</span> <span class="w" style="left:2393.03px;transform:scaleX(0.9905)">by</span> <span class="w" style="left:2460.79px;transform:scaleX(0.8803)">CAGR</span> <span class="w" style="left:2610.79px;transform:scaleX(1.0053)">From</span> <span class="w" style="left:2742.63px;transform:scaleX(0.9829)">2023–2027</span></h2>
<sup class="t " style="top:628.91px;font-size:32px;font-weight:700;color:#112742"><span class="w" style="left:2585.54px;transform:scaleX(0.696)">1</span></sup>
<sup class="t " style="top:628.91px;font-size:32px;font-weight:700;color:#112742"><span class="w" style="left:2975.69px;transform:scaleX(0.9189)">2</span></sup>
<div class="axis"></div>
<div class="bar" style="top:833px;width:1424px;background:#112742"></div>
<div class="bar" style="top:1223px;width:510px;background:#465f7e"></div>
<div class="bar" style="top:1613px;width:487px;background:#8aa3c0"></div>
<div class="t " style="top:916.92px;font-size:47.7px;font-weight:400;color:#44546a"><span class="w" style="left:2057.14px;transform:scaleX(1.0137)">Mexico</span></div>
<div class="t " style="top:916.92px;font-size:47.7px;font-weight:700;color:#44546a"><span class="w" style="left:3681.02px;transform:scaleX(0.985)">20.7%</span></div>
<div class="t " style="top:1307.22px;font-size:47.7px;font-weight:400;color:#44546a"><span class="w" style="left:1925.89px;transform:scaleX(1.0303)">United</span> <span class="w" style="left:2080.09px;transform:scaleX(0.9619)">States</span></div>
<div class="t " style="top:1307.22px;font-size:47.7px;font-weight:700;color:#44546a"><span class="w" style="left:2764.62px;transform:scaleX(0.9906)">7.4%</span></div>
<div class="t " style="top:1697.02px;font-size:47.7px;font-weight:400;color:#44546a"><span class="w" style="left:2049.91px;transform:scaleX(0.9515)">Canada</span></div>
<div class="t " style="top:1697.02px;font-size:47.7px;font-weight:700;color:#44546a"><span class="w" style="left:2742.81px;transform:scaleX(0.9907)">7.1%</span></div>
<svg class="flags" width="4000" height="2250" viewBox="0 0 4000 2250" xmlns="http://www.w3.org/2000/svg">
<defs><clipPath id="cmx"><circle cx="1823.05" cy="943.05" r="45.9"/></clipPath><clipPath id="cus"><circle cx="1829.85" cy="1313.45" r="45.9"/></clipPath><clipPath id="cca"><circle cx="1827.35" cy="1723.95" r="46.7"/></clipPath><clipPath id="ccaw"><rect x="1794.9" y="1670" width="64.7" height="110"/></clipPath></defs>
<g clip-path="url(#cmx)"><rect x="1776" y="896" width="95" height="95" fill="#eceff3"/><rect x="1776" y="896" width="29" height="95" fill="#1f6a22"/><rect x="1841.2" y="896" width="30" height="95" fill="#dd0000"/></g>
<polygon fill="#bf6a1f" points="1821.6,929.7 1825.3,928.7 1829.0,930.1 1831.5,933.0 1832.9,937.1 1832.7,940.9 1831.1,943.8 1828.2,945.4 1824.5,944.6 1822.0,942.9 1819.5,943.8 1817.4,941.7 1816.6,939.2 1817.8,937.1 1816.2,935.1 1817.4,932.6 1819.5,933.0"/>
<polygon fill="#e8c9a0" points="1825.3,937.1 1827.8,938.0 1830.7,941.7 1829.4,942.5 1826.5,940.0"/>
<path fill="none" stroke="#3f7d45" stroke-width="1.5" stroke-dasharray="1.6 0.8" d="M1810.4,940.9 Q1811.2,952.0 1823.2,953.0 Q1835.2,952.0 1836.2,940.9"/>
<ellipse cx="1822.8" cy="946.2" rx="7.5" ry="2.2" fill="#3d8f95"/>
<ellipse cx="1822.8" cy="949.5" rx="3.5" ry="1.8" fill="#c9a26b"/>
<g clip-path="url(#cus)">
<rect x="1782" y="1266" width="96" height="96" fill="#ffffff"/>
<rect x="1782" y="1267.55" width="96" height="7.06" fill="#e94b35"/>
<rect x="1782" y="1281.67" width="96" height="7.06" fill="#e94b35"/>
<rect x="1782" y="1295.80" width="96" height="7.06" fill="#e94b35"/>
<rect x="1782" y="1309.92" width="96" height="7.06" fill="#e94b35"/>
<rect x="1782" y="1324.04" width="96" height="7.06" fill="#e94b35"/>
<rect x="1782" y="1338.17" width="96" height="7.06" fill="#e94b35"/>
<rect x="1782" y="1352.29" width="96" height="7.06" fill="#e94b35"/>
<rect x="1782" y="1266" width="47.4" height="50.9" fill="#2c7bc3"/>
<path fill="#eaf6ff" d="M1789.51,1309.82 L1789.96,1310.90 L1791.13,1310.99 L1790.24,1311.75 L1790.51,1312.89 L1789.51,1312.28 L1788.51,1312.89 L1788.78,1311.75 L1787.90,1310.99 L1789.06,1310.90ZM1797.13,1309.82 L1797.58,1310.90 L1798.75,1310.99 L1797.86,1311.75 L1798.13,1312.89 L1797.13,1312.28 L1796.13,1312.89 L1796.40,1311.75 L1795.51,1310.99 L1796.68,1310.90ZM1804.83,1309.82 L1805.28,1310.90 L1806.45,1310.99 L1805.56,1311.75 L1805.83,1312.89 L1804.83,1312.28 L1803.83,1312.89 L1804.10,1311.75 L1803.21,1310.99 L1804.38,1310.90ZM1812.45,1309.82 L1812.90,1310.90 L1814.06,1310.99 L1813.17,1311.75 L1813.45,1312.89 L1812.45,1312.28 L1811.45,1312.89 L1811.72,1311.75 L1810.83,1310.99 L1812.00,1310.90ZM1819.98,1309.82 L1820.43,1310.90 L1821.60,1310.99 L1820.71,1311.75 L1820.98,1312.89 L1819.98,1312.28 L1818.98,1312.89 L1819.25,1311.75 L1818.36,1310.99 L1819.53,1310.90ZM1793.40,1304.02 L1793.85,1305.10 L1795.02,1305.20 L1794.13,1305.96 L1794.40,1307.10 L1793.40,1306.49 L1792.40,1307.10 L1792.68,1305.96 L1791.79,1305.20 L1792.95,1305.10ZM1801.02,1304.02 L1801.47,1305.10 L1802.64,1305.20 L1801.75,1305.96 L1802.02,1307.10 L1801.02,1306.49 L1800.02,1307.10 L1800.29,1305.96 L1799.40,1305.20 L1800.57,1305.10ZM1808.56,1304.02 L1809.01,1305.10 L1810.17,1305.20 L1809.28,1305.96 L1809.55,1307.10 L1808.56,1306.49 L1807.56,1307.10 L1807.83,1305.96 L1806.94,1305.20 L1808.11,1305.10ZM1816.17,1304.02 L1816.62,1305.10 L1817.79,1305.20 L1816.90,1305.96 L1817.17,1307.10 L1816.17,1306.49 L1815.17,1307.10 L1815.45,1305.96 L1814.56,1305.20 L1815.72,1305.10ZM1823.87,1304.02 L1824.32,1305.10 L1825.49,1305.20 L1824.60,1305.96 L1824.87,1307.10 L1823.87,1306.49 L1822.87,1307.10 L1823.15,1305.96 L1822.26,1305.20 L1823.42,1305.10ZM1789.51,1298.39 L1789.96,1299.47 L1791.13,1299.57 L1790.24,1300.33 L1790.51,1301.47 L1789.51,1300.86 L1788.51,1301.47 L1788.78,1300.33 L1787.90,1299.57 L1789.06,1299.47ZM1797.13,1298.39 L1797.58,1299.47 L1798.75,1299.57 L1797.86,1300.33 L1798.13,1301.47 L1797.13,1300.86 L1796.13,1301.47 L1796.40,1300.33 L1795.51,1299.57 L1796.68,1299.47ZM1804.83,1298.39 L1805.28,1299.47 L1806.45,1299.57 L1805.56,1300.33 L1805.83,1301.47 L1804.83,1300.86 L1803.83,1301.47 L1804.10,1300.33 L1803.21,1299.57 L1804.38,1299.47ZM1812.45,1298.39 L1812.90,1299.47 L1814.06,1299.57 L1813.17,1300.33 L1813.45,1301.47 L1812.45,1300.86 L1811.45,1301.47 L1811.72,1300.33 L1810.83,1299.57 L1812.00,1299.47ZM1819.98,1298.39 L1820.43,1299.47 L1821.60,1299.57 L1820.71,1300.33 L1820.98,1301.47 L1819.98,1300.86 L1818.98,1301.47 L1819.25,1300.33 L1818.36,1299.57 L1819.53,1299.47ZM1793.40,1292.76 L1793.85,1293.84 L1795.02,1293.94 L1794.13,1294.70 L1794.40,1295.84 L1793.40,1295.23 L1792.40,1295.84 L1792.68,1294.70 L1791.79,1293.94 L1792.95,1293.84ZM1801.02,1292.76 L1801.47,1293.84 L1802.64,1293.94 L1801.75,1294.70 L1802.02,1295.84 L1801.02,1295.23 L1800.02,1295.84 L1800.29,1294.70 L1799.40,1293.94 L1800.57,1293.84ZM1808.56,1292.76 L1809.01,1293.84 L1810.17,1293.94 L1809.28,1294.70 L1809.55,1295.84 L1808.56,1295.23 L1807.56,1295.84 L1807.83,1294.70 L1806.94,1293.94 L1808.11,1293.84ZM1816.17,1292.76 L1816.62,1293.84 L1817.79,1293.94 L1816.90,1294.70 L1817.17,1295.84 L1816.17,1295.23 L1815.17,1295.84 L1815.45,1294.70 L1814.56,1293.94 L1815.72,1293.84ZM1823.87,1292.76 L1824.32,1293.84 L1825.49,1293.94 L1824.60,1294.70 L1824.87,1295.84 L1823.87,1295.23 L1822.87,1295.84 L1823.15,1294.70 L1822.26,1293.94 L1823.42,1293.84ZM1797.13,1286.97 L1797.58,1288.05 L1798.75,1288.14 L1797.86,1288.90 L1798.13,1290.04 L1797.13,1289.43 L1796.13,1290.04 L1796.40,1288.90 L1795.51,1288.14 L1796.68,1288.05ZM1804.83,1286.97 L1805.28,1288.05 L1806.45,1288.14 L1805.56,1288.90 L1805.83,1290.04 L1804.83,1289.43 L1803.83,1290.04 L1804.10,1288.90 L1803.21,1288.14 L1804.38,1288.05ZM1812.45,1286.97 L1812.90,1288.05 L1814.06,1288.14 L1813.17,1288.90 L1813.45,1290.04 L1812.45,1289.43 L1811.45,1290.04 L1811.72,1288.90 L1810.83,1288.14 L1812.00,1288.05ZM1819.98,1286.97 L1820.43,1288.05 L1821.60,1288.14 L1820.71,1288.90 L1820.98,1290.04 L1819.98,1289.43 L1818.98,1290.04 L1819.25,1288.90 L1818.36,1288.14 L1819.53,1288.05ZM1801.02,1281.25 L1801.47,1282.33 L1802.64,1282.43 L1801.75,1283.19 L1802.02,1284.33 L1801.02,1283.72 L1800.02,1284.33 L1800.29,1283.19 L1799.40,1282.43 L1800.57,1282.33ZM1808.56,1281.25 L1809.01,1282.33 L1810.17,1282.43 L1809.28,1283.19 L1809.55,1284.33 L1808.56,1283.72 L1807.56,1284.33 L1807.83,1283.19 L1806.94,1282.43 L1808.11,1282.33ZM1816.17,1281.25 L1816.62,1282.33 L1817.79,1282.43 L1816.90,1283.19 L1817.17,1284.33 L1816.17,1283.72 L1815.17,1284.33 L1815.45,1283.19 L1814.56,1282.43 L1815.72,1282.33ZM1823.87,1281.25 L1824.32,1282.33 L1825.49,1282.43 L1824.60,1283.19 L1824.87,1284.33 L1823.87,1283.72 L1822.87,1284.33 L1823.15,1283.19 L1822.26,1282.43 L1823.42,1282.33ZM1812.45,1275.46 L1812.90,1276.54 L1814.06,1276.63 L1813.17,1277.39 L1813.45,1278.53 L1812.45,1277.92 L1811.45,1278.53 L1811.72,1277.39 L1810.83,1276.63 L1812.00,1276.54ZM1819.98,1275.46 L1820.43,1276.54 L1821.60,1276.63 L1820.71,1277.39 L1820.98,1278.53 L1819.98,1277.92 L1818.98,1278.53 L1819.25,1277.39 L1818.36,1276.63 L1819.53,1276.54ZM1823.87,1269.83 L1824.32,1270.91 L1825.49,1271.00 L1824.60,1271.76 L1824.87,1272.90 L1823.87,1272.29 L1822.87,1272.90 L1823.15,1271.76 L1822.26,1271.00 L1823.42,1270.91Z"/>
</g>
<g clip-path="url(#cca)"><rect x="1779" y="1676" width="98" height="98" fill="#ffffff"/><rect x="1779" y="1676" width="15.9" height="98" fill="#ff0000"/><rect x="1859.6" y="1676" width="18" height="98" fill="#ff0000"/></g>
<circle cx="1827.35" cy="1723.95" r="46.4" fill="none" stroke="#e9cfd3" stroke-width="0.7" clip-path="url(#ccaw)"/>
<polygon fill="#ff0000" points="1827.4,1697.7 1832.7,1706.4 1836.9,1704.3 1834.8,1718.4 1841.4,1713.0 1843.5,1716.7 1850.9,1715.1 1848.5,1723.8 1851.8,1725.4 1839.8,1734.9 1841.0,1739.9 1828.6,1738.2 1829.0,1751.1 1826.1,1751.1 1826.1,1738.2 1814.1,1739.9 1815.3,1734.9 1802.9,1725.4 1806.2,1723.8 1803.8,1715.1 1811.2,1716.7 1812.9,1713.0 1819.9,1718.4 1817.8,1704.3 1822.0,1706.4"/>
</svg>
</section>
<footer>
<div class="t " style="top:2063.33px;font-size:29.5px;font-weight:400;color:#112742"><span class="w" style="left:138.52px;transform:scaleX(1.0247)">7</span></div>
<div class="rule"></div>
<div class="t " style="top:2051.16px;font-size:25.8px;font-weight:400;color:#4f5e73"><span class="w" style="left:201.06px;transform:scaleX(0.9718)">Notes:</span></div>
<div class="t " style="top:2051.16px;font-size:25.8px;font-weight:400;color:#4f5e73"><span class="w" style="left:318.75px;transform:scaleX(0.8611)">(1):</span> <span class="w" style="left:358.78px;transform:scaleX(0.8354)">CAGR:</span> <span class="w" style="left:434.62px;transform:scaleX(0.9839)">Compound</span> <span class="w" style="left:565.6px;transform:scaleX(0.962)">Annual</span> <span class="w" style="left:649.6px;">Growth</span> <span class="w" style="left:740.82px;transform:scaleX(0.885)">Rate</span> <span class="w" style="left:795.57px;transform:scaleX(1.2857)">/</span> <span class="w" style="left:810.66px;transform:scaleX(0.9451)">average</span> <span class="w" style="left:905.64px;transform:scaleX(0.967)">revenue</span> <span class="w" style="left:1001.59px;transform:scaleX(1.0133)">growth</span> <span class="w" style="left:1087.63px;transform:scaleX(0.9767)">rate</span> <span class="w" style="left:1138.57px;transform:scaleX(1.0278)">per</span> <span class="w" style="left:1182.6px;transform:scaleX(0.96)">year</span> <span class="w" style="left:1236.72px;transform:scaleX(0.8889)">(2):</span> <span class="w" style="left:1277.73px;transform:scaleX(0.9388)">Forecast</span> <span class="w" style="left:1378.57px;transform:scaleX(1.2857)">/</span> <span class="w" style="left:1393.69px;transform:scaleX(0.9573)">Notes:</span> <span class="w" style="left:1472.7px;transform:scaleX(0.9545)">Malta,</span> <span class="w" style="left:1545.68px;transform:scaleX(0.9302)">Cyprus,</span> <span class="w" style="left:1634.63px;transform:scaleX(0.9756)">and</span> <span class="w" style="left:1683.71px;transform:scaleX(0.95)">Iceland</span> <span class="w" style="left:1769.6px;">are</span> <span class="w" style="left:1813.57px;transform:scaleX(1.0286)">not</span> <span class="w" style="left:1857.62px;transform:scaleX(0.9787)">included</span> <span class="w" style="left:1959.66px;transform:scaleX(0.9444)">in</span> <span class="w" style="left:1985.6px;transform:scaleX(1.0286)">the</span> <span class="w" style="left:2029.62px;transform:scaleX(0.9792)">map</span></div>
<div class="t " style="top:2088.16px;font-size:25.8px;font-weight:400;color:#4f5e73"><span class="w" style="left:201.03px;transform:scaleX(0.9394)">Sources:</span></div>
<div class="t " style="top:2088.16px;font-size:25.8px;font-weight:400;color:#4f5e73"><span class="w" style="left:320.92px;transform:scaleX(0.8402)">ECDB,</span> <span class="w" style="left:393.73px;transform:scaleX(0.8846)">as</span> <span class="w" style="left:425.55px;transform:scaleX(1.0476)">of</span> <span class="w" style="left:453.6px;transform:scaleX(0.98)">April</span> <span class="w" style="left:510.6px;">2024</span></div>
<div class="t logo" style="top:2030.13px;font-size:101.8px;font-weight:400;color:#112742"><span class="w" style="left:3503.8px;transform:scaleX(1.0787)">E</span><span class="w" style="left:3571.86px;transform:scaleX(1.0278)">C</span><span class="w" style="left:3648.5px;transform:scaleX(1.0854)">D</span><span class="w" style="left:3728.43px;transform:scaleX(1.0983)">B</span></div>
<div class="logoline"></div>
</footer>
</div>
</body>
</html>
